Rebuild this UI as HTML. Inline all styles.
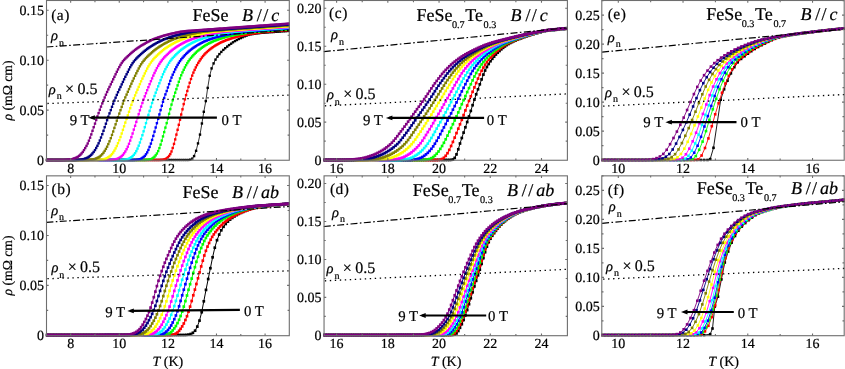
<!DOCTYPE html>
<html><head><meta charset="utf-8"><title>Figure</title>
<style>
html,body{margin:0;padding:0;background:#fff;}
body{width:845px;height:369px;overflow:hidden;}
text{stroke:#000;stroke-width:0.2px;}
svg{display:block;font-family:"Liberation Serif",serif;text-rendering:geometricPrecision;will-change:transform;}
</style></head><body>
<svg width="845" height="369" viewBox="0 0 845 369">
<rect width="845" height="369" fill="#fff"/>
<defs>
<marker id="ma0" markerUnits="userSpaceOnUse" markerWidth="6" markerHeight="6" refX="3" refY="3"><rect x="1.8" y="1.8" width="2.4" height="2.4" fill="#000000"/></marker>
<marker id="ma1" markerUnits="userSpaceOnUse" markerWidth="6" markerHeight="6" refX="3" refY="3"><rect x="1.8" y="1.8" width="2.4" height="2.4" fill="#ff0000"/></marker>
<marker id="ma2" markerUnits="userSpaceOnUse" markerWidth="6" markerHeight="6" refX="3" refY="3"><rect x="1.8" y="1.8" width="2.4" height="2.4" fill="#00ff00"/></marker>
<marker id="ma3" markerUnits="userSpaceOnUse" markerWidth="6" markerHeight="6" refX="3" refY="3"><rect x="1.8" y="1.8" width="2.4" height="2.4" fill="#0000ff"/></marker>
<marker id="ma4" markerUnits="userSpaceOnUse" markerWidth="6" markerHeight="6" refX="3" refY="3"><rect x="1.8" y="1.8" width="2.4" height="2.4" fill="#00ffff"/></marker>
<marker id="ma5" markerUnits="userSpaceOnUse" markerWidth="6" markerHeight="6" refX="3" refY="3"><rect x="1.8" y="1.8" width="2.4" height="2.4" fill="#ff00ff"/></marker>
<marker id="ma6" markerUnits="userSpaceOnUse" markerWidth="6" markerHeight="6" refX="3" refY="3"><rect x="1.8" y="1.8" width="2.4" height="2.4" fill="#ffff00"/></marker>
<marker id="ma7" markerUnits="userSpaceOnUse" markerWidth="6" markerHeight="6" refX="3" refY="3"><rect x="1.8" y="1.8" width="2.4" height="2.4" fill="#808000"/></marker>
<marker id="ma8" markerUnits="userSpaceOnUse" markerWidth="6" markerHeight="6" refX="3" refY="3"><rect x="1.8" y="1.8" width="2.4" height="2.4" fill="#000080"/></marker>
<marker id="ma9" markerUnits="userSpaceOnUse" markerWidth="6" markerHeight="6" refX="3" refY="3"><rect x="1.8" y="1.8" width="2.4" height="2.4" fill="#800080"/></marker>
<marker id="mb0" markerUnits="userSpaceOnUse" markerWidth="6" markerHeight="6" refX="3" refY="3"><rect x="1.65" y="1.65" width="2.7" height="2.7" fill="#000000"/></marker>
<marker id="mb1" markerUnits="userSpaceOnUse" markerWidth="6" markerHeight="6" refX="3" refY="3"><rect x="1.65" y="1.65" width="2.7" height="2.7" fill="#ff0000"/></marker>
<marker id="mb2" markerUnits="userSpaceOnUse" markerWidth="6" markerHeight="6" refX="3" refY="3"><rect x="1.65" y="1.65" width="2.7" height="2.7" fill="#00ff00"/></marker>
<marker id="mb3" markerUnits="userSpaceOnUse" markerWidth="6" markerHeight="6" refX="3" refY="3"><rect x="1.65" y="1.65" width="2.7" height="2.7" fill="#0000ff"/></marker>
<marker id="mb4" markerUnits="userSpaceOnUse" markerWidth="6" markerHeight="6" refX="3" refY="3"><rect x="1.65" y="1.65" width="2.7" height="2.7" fill="#00ffff"/></marker>
<marker id="mb5" markerUnits="userSpaceOnUse" markerWidth="6" markerHeight="6" refX="3" refY="3"><rect x="1.65" y="1.65" width="2.7" height="2.7" fill="#ff00ff"/></marker>
<marker id="mb6" markerUnits="userSpaceOnUse" markerWidth="6" markerHeight="6" refX="3" refY="3"><rect x="1.65" y="1.65" width="2.7" height="2.7" fill="#ffff00"/></marker>
<marker id="mb7" markerUnits="userSpaceOnUse" markerWidth="6" markerHeight="6" refX="3" refY="3"><rect x="1.65" y="1.65" width="2.7" height="2.7" fill="#808000"/></marker>
<marker id="mb8" markerUnits="userSpaceOnUse" markerWidth="6" markerHeight="6" refX="3" refY="3"><rect x="1.65" y="1.65" width="2.7" height="2.7" fill="#000080"/></marker>
<marker id="mb9" markerUnits="userSpaceOnUse" markerWidth="6" markerHeight="6" refX="3" refY="3"><rect x="1.65" y="1.65" width="2.7" height="2.7" fill="#800080"/></marker>
<marker id="mc0" markerUnits="userSpaceOnUse" markerWidth="6" markerHeight="6" refX="3" refY="3"><rect x="1.65" y="1.65" width="2.7" height="2.7" fill="#000000"/></marker>
<marker id="mc1" markerUnits="userSpaceOnUse" markerWidth="6" markerHeight="6" refX="3" refY="3"><rect x="1.65" y="1.65" width="2.7" height="2.7" fill="#ff0000"/></marker>
<marker id="mc2" markerUnits="userSpaceOnUse" markerWidth="6" markerHeight="6" refX="3" refY="3"><rect x="1.65" y="1.65" width="2.7" height="2.7" fill="#00ff00"/></marker>
<marker id="mc3" markerUnits="userSpaceOnUse" markerWidth="6" markerHeight="6" refX="3" refY="3"><rect x="1.65" y="1.65" width="2.7" height="2.7" fill="#0000ff"/></marker>
<marker id="mc4" markerUnits="userSpaceOnUse" markerWidth="6" markerHeight="6" refX="3" refY="3"><rect x="1.65" y="1.65" width="2.7" height="2.7" fill="#00ffff"/></marker>
<marker id="mc5" markerUnits="userSpaceOnUse" markerWidth="6" markerHeight="6" refX="3" refY="3"><rect x="1.65" y="1.65" width="2.7" height="2.7" fill="#ff00ff"/></marker>
<marker id="mc6" markerUnits="userSpaceOnUse" markerWidth="6" markerHeight="6" refX="3" refY="3"><rect x="1.65" y="1.65" width="2.7" height="2.7" fill="#ffff00"/></marker>
<marker id="mc7" markerUnits="userSpaceOnUse" markerWidth="6" markerHeight="6" refX="3" refY="3"><rect x="1.65" y="1.65" width="2.7" height="2.7" fill="#808000"/></marker>
<marker id="mc8" markerUnits="userSpaceOnUse" markerWidth="6" markerHeight="6" refX="3" refY="3"><rect x="1.65" y="1.65" width="2.7" height="2.7" fill="#000080"/></marker>
<marker id="mc9" markerUnits="userSpaceOnUse" markerWidth="6" markerHeight="6" refX="3" refY="3"><rect x="1.65" y="1.65" width="2.7" height="2.7" fill="#800080"/></marker>
<marker id="md0" markerUnits="userSpaceOnUse" markerWidth="6" markerHeight="6" refX="3" refY="3"><rect x="1.65" y="1.65" width="2.7" height="2.7" fill="#000000"/></marker>
<marker id="md1" markerUnits="userSpaceOnUse" markerWidth="6" markerHeight="6" refX="3" refY="3"><rect x="1.65" y="1.65" width="2.7" height="2.7" fill="#ff0000"/></marker>
<marker id="md2" markerUnits="userSpaceOnUse" markerWidth="6" markerHeight="6" refX="3" refY="3"><rect x="1.65" y="1.65" width="2.7" height="2.7" fill="#00ff00"/></marker>
<marker id="md3" markerUnits="userSpaceOnUse" markerWidth="6" markerHeight="6" refX="3" refY="3"><rect x="1.65" y="1.65" width="2.7" height="2.7" fill="#0000ff"/></marker>
<marker id="md4" markerUnits="userSpaceOnUse" markerWidth="6" markerHeight="6" refX="3" refY="3"><rect x="1.65" y="1.65" width="2.7" height="2.7" fill="#00ffff"/></marker>
<marker id="md5" markerUnits="userSpaceOnUse" markerWidth="6" markerHeight="6" refX="3" refY="3"><rect x="1.65" y="1.65" width="2.7" height="2.7" fill="#ff00ff"/></marker>
<marker id="md6" markerUnits="userSpaceOnUse" markerWidth="6" markerHeight="6" refX="3" refY="3"><rect x="1.65" y="1.65" width="2.7" height="2.7" fill="#ffff00"/></marker>
<marker id="md7" markerUnits="userSpaceOnUse" markerWidth="6" markerHeight="6" refX="3" refY="3"><rect x="1.65" y="1.65" width="2.7" height="2.7" fill="#808000"/></marker>
<marker id="md8" markerUnits="userSpaceOnUse" markerWidth="6" markerHeight="6" refX="3" refY="3"><rect x="1.65" y="1.65" width="2.7" height="2.7" fill="#000080"/></marker>
<marker id="md9" markerUnits="userSpaceOnUse" markerWidth="6" markerHeight="6" refX="3" refY="3"><rect x="1.65" y="1.65" width="2.7" height="2.7" fill="#800080"/></marker>
<marker id="me0" markerUnits="userSpaceOnUse" markerWidth="6" markerHeight="6" refX="3" refY="3"><rect x="1.7" y="1.7" width="2.6" height="2.6" fill="#000000"/></marker>
<marker id="me1" markerUnits="userSpaceOnUse" markerWidth="6" markerHeight="6" refX="3" refY="3"><rect x="1.7" y="1.7" width="2.6" height="2.6" fill="#ff0000"/></marker>
<marker id="me2" markerUnits="userSpaceOnUse" markerWidth="6" markerHeight="6" refX="3" refY="3"><rect x="1.7" y="1.7" width="2.6" height="2.6" fill="#00ff00"/></marker>
<marker id="me3" markerUnits="userSpaceOnUse" markerWidth="6" markerHeight="6" refX="3" refY="3"><rect x="1.7" y="1.7" width="2.6" height="2.6" fill="#0000ff"/></marker>
<marker id="me4" markerUnits="userSpaceOnUse" markerWidth="6" markerHeight="6" refX="3" refY="3"><rect x="1.7" y="1.7" width="2.6" height="2.6" fill="#00ffff"/></marker>
<marker id="me5" markerUnits="userSpaceOnUse" markerWidth="6" markerHeight="6" refX="3" refY="3"><rect x="1.7" y="1.7" width="2.6" height="2.6" fill="#ff00ff"/></marker>
<marker id="me6" markerUnits="userSpaceOnUse" markerWidth="6" markerHeight="6" refX="3" refY="3"><rect x="1.7" y="1.7" width="2.6" height="2.6" fill="#ffff00"/></marker>
<marker id="me7" markerUnits="userSpaceOnUse" markerWidth="6" markerHeight="6" refX="3" refY="3"><rect x="1.7" y="1.7" width="2.6" height="2.6" fill="#808000"/></marker>
<marker id="me8" markerUnits="userSpaceOnUse" markerWidth="6" markerHeight="6" refX="3" refY="3"><rect x="1.7" y="1.7" width="2.6" height="2.6" fill="#000080"/></marker>
<marker id="me9" markerUnits="userSpaceOnUse" markerWidth="6" markerHeight="6" refX="3" refY="3"><rect x="1.7" y="1.7" width="2.6" height="2.6" fill="#800080"/></marker>
<marker id="mf0" markerUnits="userSpaceOnUse" markerWidth="6" markerHeight="6" refX="3" refY="3"><rect x="1.7" y="1.7" width="2.6" height="2.6" fill="#000000"/></marker>
<marker id="mf1" markerUnits="userSpaceOnUse" markerWidth="6" markerHeight="6" refX="3" refY="3"><rect x="1.7" y="1.7" width="2.6" height="2.6" fill="#ff0000"/></marker>
<marker id="mf2" markerUnits="userSpaceOnUse" markerWidth="6" markerHeight="6" refX="3" refY="3"><rect x="1.7" y="1.7" width="2.6" height="2.6" fill="#00ff00"/></marker>
<marker id="mf3" markerUnits="userSpaceOnUse" markerWidth="6" markerHeight="6" refX="3" refY="3"><rect x="1.7" y="1.7" width="2.6" height="2.6" fill="#0000ff"/></marker>
<marker id="mf4" markerUnits="userSpaceOnUse" markerWidth="6" markerHeight="6" refX="3" refY="3"><rect x="1.7" y="1.7" width="2.6" height="2.6" fill="#00ffff"/></marker>
<marker id="mf5" markerUnits="userSpaceOnUse" markerWidth="6" markerHeight="6" refX="3" refY="3"><rect x="1.7" y="1.7" width="2.6" height="2.6" fill="#ff00ff"/></marker>
<marker id="mf6" markerUnits="userSpaceOnUse" markerWidth="6" markerHeight="6" refX="3" refY="3"><rect x="1.7" y="1.7" width="2.6" height="2.6" fill="#ffff00"/></marker>
<marker id="mf7" markerUnits="userSpaceOnUse" markerWidth="6" markerHeight="6" refX="3" refY="3"><rect x="1.7" y="1.7" width="2.6" height="2.6" fill="#808000"/></marker>
<marker id="mf8" markerUnits="userSpaceOnUse" markerWidth="6" markerHeight="6" refX="3" refY="3"><rect x="1.7" y="1.7" width="2.6" height="2.6" fill="#000080"/></marker>
<marker id="mf9" markerUnits="userSpaceOnUse" markerWidth="6" markerHeight="6" refX="3" refY="3"><rect x="1.7" y="1.7" width="2.6" height="2.6" fill="#800080"/></marker>
</defs>
<g id="panel_a">
<clipPath id="clip_a"><rect x="45.9" y="0.5" width="243.9" height="161.2"/></clipPath>
<g clip-path="url(#clip_a)" fill="none" stroke-linejoin="round">
<polyline points="46.4,160 48.3,160 50.2,160 52.2,160 54.1,160 56.1,160 58,160 60,160 61.9,160 63.8,160 65.8,160 67.7,160 69.7,160 71.6,160 73.6,160 75.5,160 77.5,160 79.4,160 81.3,160 83.3,160 85.2,160 87.2,160 89.1,160 91.1,160 93,160 95,160 96.9,160 98.8,160 100.8,160 102.7,160 104.7,160 106.6,160 108.6,160 110.5,160 112.5,160 114.4,160 116.3,160 118.3,160 120.2,160 122.2,160 124.1,160 126.1,160 128,160 130,160 131.9,160 133.8,160 135.8,160 137.7,160 139.7,160 141.6,160 143.6,160 145.5,160 147.5,160 149.4,160 151.3,160 153.3,160 155.2,160 157.2,160 159.1,160 161.1,160 163,160 165,160 166.9,160 168.8,160 170.8,160 172.7,160 174.7,160 176.6,160 178.6,160 180.5,160 182.5,160 184.4,160 186.3,160 188.3,160 190.2,159.7 192.2,158.7 194.1,156.1 196.1,150.8 198,143.4 200,134.6 201.9,123.5 203.8,111.8 205.8,101.1 207.7,87.9 209.7,75.8 211.6,68.4 213.6,63.4 215.5,59.6 217.5,56.6 219.4,54.1 221.3,51.9 223.3,49.9 225.2,48.2 227.2,46.6 229.1,45.1 231.1,43.7 233,42.3 235,41.1 236.9,40 238.8,39 240.8,38.1 242.7,37.2 244.7,36.3 246.6,35.6 248.6,34.9 250.5,34.4 252.5,34.1 254.4,33.8 256.3,33.5 258.3,33.3 260.2,33 262.2,32.8 264.1,32.7 266.1,32.5 268,32.4 270,32.2 271.9,32.1 273.8,32 275.8,31.8 277.7,31.7 279.7,31.6 281.6,31.4 283.6,31.3 285.5,31.2 287.5,31 289.4,30.9" stroke="#000000" stroke-width="0.8" marker-start="url(#ma0)" marker-mid="url(#ma0)" marker-end="url(#ma0)"/>
<polyline points="46.4,160 47.6,160 48.8,160 50,160 51.2,160 52.4,160 53.6,160 54.9,160 56.1,160 57.3,160 58.5,160 59.7,160 60.9,160 62.1,160 63.4,160 64.6,160 65.8,160 67,160 68.2,160 69.4,160 70.7,160 71.9,160 73.1,160 74.3,160 75.5,160 76.7,160 77.9,160 79.2,160 80.4,160 81.6,160 82.8,160 84,160 85.2,160 86.5,160 87.7,160 88.9,160 90.1,160 91.3,160 92.5,160 93.7,160 95,160 96.2,160 97.4,160 98.6,160 99.8,160 101,160 102.3,160 103.5,160 104.7,160 105.9,160 107.1,160 108.3,160 109.5,160 110.8,160 112,160 113.2,160 114.4,160 115.6,160 116.8,160 118,160 119.3,160 120.5,160 121.7,160 122.9,160 124.1,160 125.3,160 126.6,160 127.8,160 129,160 130.2,160 131.4,160 132.6,160 133.8,160 135.1,160 136.3,160 137.5,160 138.7,160 139.9,160 141.1,160 142.4,160 143.6,160 144.8,160 146,160 147.2,160 148.4,160 149.6,160 150.9,160 152.1,160 153.3,160 154.5,160 155.7,160 156.9,160 158.2,160 159.4,160 160.6,159.9 161.8,159.9 163,159.8 164.2,159.5 165.4,159.1 166.7,158.3 167.9,157.3 169.1,155.9 170.3,154.1 171.5,151.5 172.7,148 174,143.9 175.2,139.4 176.4,134.6 177.6,129.8 178.8,124.8 180,119.7 181.2,114.5 182.5,109.3 183.7,104.1 184.9,99.4 186.1,95.1 187.3,91 188.5,86.9 189.7,82.8 191,79 192.2,75.6 193.4,72.6 194.6,69.9 195.8,67.4 197,65.1 198.3,62.9 199.5,61 200.7,59.2 201.9,57.5 203.1,56 204.3,54.6 205.5,53.3 206.8,52.1 208,51 209.2,50 210.4,49 211.6,48.1 212.8,47.2 214.1,46.4 215.3,45.6 216.5,44.9 217.7,44.2 218.9,43.5 220.1,42.9 221.3,42.3 222.6,41.7 223.8,41.2 225,40.7 226.2,40.2 227.4,39.8 228.6,39.4 229.9,38.9 231.1,38.5 232.3,38.1 233.5,37.7 234.7,37.4 235.9,37 237.1,36.7 238.4,36.4 239.6,36.1 240.8,35.8 242,35.5 243.2,35.3 244.4,35 245.7,34.8 246.9,34.6 248.1,34.4 249.3,34.1 250.5,33.9 251.7,33.7 252.9,33.5 254.2,33.3 255.4,33.1 256.6,32.9 257.8,32.7 259,32.6 260.2,32.4 261.4,32.3 262.7,32.1 263.9,32 265.1,31.9 266.3,31.8 267.5,31.7 268.7,31.5 270,31.4 271.2,31.3 272.4,31.2 273.6,31.1 274.8,31 276,30.9 277.2,30.8 278.5,30.7 279.7,30.6 280.9,30.5 282.1,30.4 283.3,30.3 284.5,30.2 285.8,30.2 287,30.1 288.2,30 289.4,29.9" stroke="#ff0000" stroke-width="0.8" marker-start="url(#ma1)" marker-mid="url(#ma1)" marker-end="url(#ma1)"/>
<polyline points="46.4,160 47.6,160 48.8,160 50,160 51.2,160 52.4,160 53.6,160 54.9,160 56.1,160 57.3,160 58.5,160 59.7,160 60.9,160 62.1,160 63.4,160 64.6,160 65.8,160 67,160 68.2,160 69.4,160 70.7,160 71.9,160 73.1,160 74.3,160 75.5,160 76.7,160 77.9,160 79.2,160 80.4,160 81.6,160 82.8,160 84,160 85.2,160 86.5,160 87.7,160 88.9,160 90.1,160 91.3,160 92.5,160 93.7,160 95,160 96.2,160 97.4,160 98.6,160 99.8,160 101,160 102.3,160 103.5,160 104.7,160 105.9,160 107.1,160 108.3,160 109.5,160 110.8,160 112,160 113.2,160 114.4,160 115.6,160 116.8,160 118,160 119.3,160 120.5,160 121.7,160 122.9,160 124.1,160 125.3,160 126.6,160 127.8,160 129,160 130.2,160 131.4,160 132.6,160 133.8,160 135.1,160 136.3,160 137.5,160 138.7,160 139.9,160 141.1,160 142.4,160 143.6,160 144.8,160 146,159.9 147.2,159.9 148.4,159.8 149.6,159.5 150.9,159.2 152.1,158.6 153.3,157.8 154.5,156.7 155.7,155.3 156.9,153.5 158.2,151.1 159.4,148.1 160.6,144.6 161.8,140.6 163,136.4 164.2,132.1 165.4,127.6 166.7,123.1 167.9,118.5 169.1,113.8 170.3,109.1 171.5,104.6 172.7,100.3 174,96.4 175.2,92.7 176.4,89.1 177.6,85.4 178.8,81.8 180,78.4 181.2,75.3 182.5,72.4 183.7,69.8 184.9,67.4 186.1,65.2 187.3,63.1 188.5,61.2 189.7,59.5 191,57.9 192.2,56.5 193.4,55.2 194.6,53.9 195.8,52.7 197,51.5 198.3,50.5 199.5,49.5 200.7,48.6 201.9,47.7 203.1,46.9 204.3,46.1 205.5,45.3 206.8,44.6 208,43.9 209.2,43.3 210.4,42.7 211.6,42.1 212.8,41.5 214.1,41 215.3,40.5 216.5,40.1 217.7,39.6 218.9,39.2 220.1,38.8 221.3,38.4 222.6,38 223.8,37.6 225,37.2 226.2,36.9 227.4,36.6 228.6,36.2 229.9,36 231.1,35.7 232.3,35.4 233.5,35.2 234.7,34.9 235.9,34.7 237.1,34.5 238.4,34.2 239.6,34 240.8,33.8 242,33.6 243.2,33.4 244.4,33.2 245.7,33 246.9,32.8 248.1,32.6 249.3,32.5 250.5,32.3 251.7,32.2 252.9,32 254.2,31.9 255.4,31.8 256.6,31.7 257.8,31.6 259,31.5 260.2,31.4 261.4,31.3 262.7,31.2 263.9,31.1 265.1,30.9 266.3,30.8 267.5,30.7 268.7,30.7 270,30.6 271.2,30.5 272.4,30.4 273.6,30.3 274.8,30.2 276,30.1 277.2,30 278.5,30 279.7,29.9 280.9,29.8 282.1,29.7 283.3,29.6 284.5,29.5 285.8,29.4 287,29.4 288.2,29.3 289.4,29.2" stroke="#00ff00" stroke-width="0.8" marker-start="url(#ma2)" marker-mid="url(#ma2)" marker-end="url(#ma2)"/>
<polyline points="46.4,160 47.6,160 48.8,160 50,160 51.2,160 52.4,160 53.6,160 54.9,160 56.1,160 57.3,160 58.5,160 59.7,160 60.9,160 62.1,160 63.4,160 64.6,160 65.8,160 67,160 68.2,160 69.4,160 70.7,160 71.9,160 73.1,160 74.3,160 75.5,160 76.7,160 77.9,160 79.2,160 80.4,160 81.6,160 82.8,160 84,160 85.2,160 86.5,160 87.7,160 88.9,160 90.1,160 91.3,160 92.5,160 93.7,160 95,160 96.2,160 97.4,160 98.6,160 99.8,160 101,160 102.3,160 103.5,160 104.7,160 105.9,160 107.1,160 108.3,160 109.5,160 110.8,160 112,160 113.2,160 114.4,160 115.6,160 116.8,160 118,160 119.3,160 120.5,160 121.7,160 122.9,160 124.1,160 125.3,160 126.6,160 127.8,160 129,160 130.2,160 131.4,160 132.6,160 133.8,160 135.1,159.9 136.3,159.9 137.5,159.7 138.7,159.5 139.9,159.2 141.1,158.7 142.4,157.9 143.6,157 144.8,155.9 146,154.3 147.2,152.4 148.4,149.9 149.6,146.9 150.9,143.6 152.1,139.9 153.3,135.9 154.5,131.7 155.7,127.5 156.9,123.2 158.2,118.8 159.4,114.4 160.6,110.1 161.8,105.8 163,101.8 164.2,98 165.4,94.4 166.7,91 167.9,87.5 169.1,84.1 170.3,80.8 171.5,77.6 172.7,74.7 174,72 175.2,69.4 176.4,67.1 177.6,64.9 178.8,62.9 180,61.1 181.2,59.4 182.5,57.9 183.7,56.5 184.9,55.2 186.1,53.9 187.3,52.8 188.5,51.6 189.7,50.6 191,49.6 192.2,48.7 193.4,47.8 194.6,47 195.8,46.2 197,45.4 198.3,44.7 199.5,44 200.7,43.3 201.9,42.7 203.1,42.1 204.3,41.5 205.5,41 206.8,40.5 208,40 209.2,39.6 210.4,39.1 211.6,38.7 212.8,38.3 214.1,37.9 215.3,37.5 216.5,37.2 217.7,36.8 218.9,36.5 220.1,36.2 221.3,35.9 222.6,35.6 223.8,35.3 225,35.1 226.2,34.8 227.4,34.6 228.6,34.3 229.9,34.1 231.1,33.9 232.3,33.6 233.5,33.4 234.7,33.2 235.9,33 237.1,32.8 238.4,32.6 239.6,32.5 240.8,32.3 242,32.1 243.2,32 244.4,31.9 245.7,31.8 246.9,31.7 248.1,31.5 249.3,31.4 250.5,31.3 251.7,31.2 252.9,31.1 254.2,31 255.4,30.9 256.6,30.8 257.8,30.7 259,30.6 260.2,30.5 261.4,30.4 262.7,30.3 263.9,30.3 265.1,30.2 266.3,30.1 267.5,30 268.7,29.9 270,29.8 271.2,29.7 272.4,29.6 273.6,29.6 274.8,29.5 276,29.4 277.2,29.3 278.5,29.2 279.7,29.1 280.9,29 282.1,29 283.3,28.9 284.5,28.8 285.8,28.7 287,28.6 288.2,28.5 289.4,28.4" stroke="#0000ff" stroke-width="0.8" marker-start="url(#ma3)" marker-mid="url(#ma3)" marker-end="url(#ma3)"/>
<polyline points="46.4,160 47.6,160 48.8,160 50,160 51.2,160 52.4,160 53.6,160 54.9,160 56.1,160 57.3,160 58.5,160 59.7,160 60.9,160 62.1,160 63.4,160 64.6,160 65.8,160 67,160 68.2,160 69.4,160 70.7,160 71.9,160 73.1,160 74.3,160 75.5,160 76.7,160 77.9,160 79.2,160 80.4,160 81.6,160 82.8,160 84,160 85.2,160 86.5,160 87.7,160 88.9,160 90.1,160 91.3,160 92.5,160 93.7,160 95,160 96.2,160 97.4,160 98.6,160 99.8,160 101,160 102.3,160 103.5,160 104.7,160 105.9,160 107.1,160 108.3,160 109.5,160 110.8,160 112,160 113.2,160 114.4,160 115.6,160 116.8,160 118,160 119.3,160 120.5,160 121.7,159.9 122.9,159.9 124.1,159.8 125.3,159.7 126.6,159.5 127.8,159.1 129,158.6 130.2,158 131.4,157.2 132.6,156.2 133.8,154.8 135.1,153.2 136.3,151.1 137.5,148.6 138.7,145.7 139.9,142.5 141.1,139 142.4,135.2 143.6,131.3 144.8,127.2 146,123.1 147.2,119 148.4,114.9 149.6,110.9 150.9,106.9 152.1,103 153.3,99.4 154.5,96 155.7,92.7 156.9,89.5 158.2,86.3 159.4,83.2 160.6,80.1 161.8,77.1 163,74.3 164.2,71.7 165.4,69.2 166.7,66.9 167.9,64.8 169.1,62.8 170.3,61 171.5,59.5 172.7,58 174,56.7 175.2,55.4 176.4,54.2 177.6,53 178.8,51.9 180,50.8 181.2,49.8 182.5,48.9 183.7,48 184.9,47.2 186.1,46.4 187.3,45.6 188.5,44.9 189.7,44.2 191,43.5 192.2,42.9 193.4,42.3 194.6,41.7 195.8,41.1 197,40.6 198.3,40.1 199.5,39.7 200.7,39.2 201.9,38.8 203.1,38.3 204.3,37.9 205.5,37.6 206.8,37.2 208,36.8 209.2,36.5 210.4,36.2 211.6,35.8 212.8,35.6 214.1,35.3 215.3,35 216.5,34.8 217.7,34.5 218.9,34.3 220.1,34 221.3,33.8 222.6,33.6 223.8,33.3 225,33.1 226.2,32.9 227.4,32.7 228.6,32.5 229.9,32.4 231.1,32.2 232.3,32 233.5,31.9 234.7,31.8 235.9,31.7 237.1,31.6 238.4,31.4 239.6,31.3 240.8,31.2 242,31.1 243.2,31 244.4,30.9 245.7,30.8 246.9,30.7 248.1,30.6 249.3,30.5 250.5,30.4 251.7,30.4 252.9,30.3 254.2,30.2 255.4,30.1 256.6,30 257.8,29.9 259,29.8 260.2,29.7 261.4,29.7 262.7,29.6 263.9,29.5 265.1,29.4 266.3,29.3 267.5,29.2 268.7,29.1 270,29 271.2,29 272.4,28.9 273.6,28.8 274.8,28.7 276,28.6 277.2,28.5 278.5,28.4 279.7,28.4 280.9,28.3 282.1,28.2 283.3,28.1 284.5,28 285.8,27.9 287,27.8 288.2,27.8 289.4,27.7" stroke="#00ffff" stroke-width="0.8" marker-start="url(#ma4)" marker-mid="url(#ma4)" marker-end="url(#ma4)"/>
<polyline points="46.4,160 47.6,160 48.8,160 50,160 51.2,160 52.4,160 53.6,160 54.9,160 56.1,160 57.3,160 58.5,160 59.7,160 60.9,160 62.1,160 63.4,160 64.6,160 65.8,160 67,160 68.2,160 69.4,160 70.7,160 71.9,160 73.1,160 74.3,160 75.5,160 76.7,160 77.9,160 79.2,160 80.4,160 81.6,160 82.8,160 84,160 85.2,160 86.5,160 87.7,160 88.9,160 90.1,160 91.3,160 92.5,160 93.7,160 95,160 96.2,160 97.4,160 98.6,160 99.8,160 101,160 102.3,160 103.5,160 104.7,160 105.9,160 107.1,160 108.3,160 109.5,160 110.8,159.9 112,159.9 113.2,159.8 114.4,159.6 115.6,159.3 116.8,159 118,158.5 119.3,157.9 120.5,157.1 121.7,156.1 122.9,154.9 124.1,153.3 125.3,151.5 126.6,149.2 127.8,146.7 129,143.8 130.2,140.6 131.4,137.1 132.6,133.5 133.8,129.6 135.1,125.8 136.3,121.9 137.5,118 138.7,114.1 139.9,110.3 141.1,106.6 142.4,103 143.6,99.5 144.8,96.3 146,93.2 147.2,90.2 148.4,87.2 149.6,84.2 150.9,81.2 152.1,78.4 153.3,75.6 154.5,73 155.7,70.5 156.9,68.1 158.2,65.9 159.4,63.9 160.6,62 161.8,60.4 163,58.9 164.2,57.5 165.4,56.3 166.7,55 167.9,53.9 169.1,52.7 170.3,51.6 171.5,50.6 172.7,49.6 174,48.7 175.2,47.9 176.4,47 177.6,46.2 178.8,45.5 180,44.8 181.2,44.1 182.5,43.4 183.7,42.7 184.9,42.1 186.1,41.5 187.3,41 188.5,40.5 189.7,40 191,39.5 192.2,39 193.4,38.6 194.6,38.2 195.8,37.8 197,37.4 198.3,37 199.5,36.6 200.7,36.3 201.9,36 203.1,35.7 204.3,35.4 205.5,35.1 206.8,34.8 208,34.6 209.2,34.3 210.4,34 211.6,33.8 212.8,33.6 214.1,33.3 215.3,33.1 216.5,32.9 217.7,32.7 218.9,32.5 220.1,32.3 221.3,32.1 222.6,32 223.8,31.8 225,31.7 226.2,31.6 227.4,31.5 228.6,31.3 229.9,31.2 231.1,31.1 232.3,31 233.5,30.9 234.7,30.8 235.9,30.7 237.1,30.6 238.4,30.5 239.6,30.4 240.8,30.4 242,30.3 243.2,30.2 244.4,30.1 245.7,30 246.9,29.9 248.1,29.8 249.3,29.7 250.5,29.6 251.7,29.6 252.9,29.5 254.2,29.4 255.4,29.3 256.6,29.2 257.8,29.1 259,29 260.2,29 261.4,28.9 262.7,28.8 263.9,28.7 265.1,28.6 266.3,28.5 267.5,28.4 268.7,28.4 270,28.3 271.2,28.2 272.4,28.1 273.6,28 274.8,27.9 276,27.8 277.2,27.8 278.5,27.7 279.7,27.6 280.9,27.5 282.1,27.4 283.3,27.3 284.5,27.2 285.8,27.2 287,27.1 288.2,27 289.4,26.9" stroke="#ff00ff" stroke-width="0.8" marker-start="url(#ma5)" marker-mid="url(#ma5)" marker-end="url(#ma5)"/>
<polyline points="46.4,160 47.6,160 48.8,160 50,160 51.2,160 52.4,160 53.6,160 54.9,160 56.1,160 57.3,160 58.5,160 59.7,160 60.9,160 62.1,160 63.4,160 64.6,160 65.8,160 67,160 68.2,160 69.4,160 70.7,160 71.9,160 73.1,160 74.3,160 75.5,160 76.7,160 77.9,160 79.2,160 80.4,160 81.6,160 82.8,160 84,160 85.2,160 86.5,160 87.7,160 88.9,160 90.1,160 91.3,160 92.5,160 93.7,160 95,160 96.2,160 97.4,160 98.6,159.9 99.8,159.8 101,159.7 102.3,159.6 103.5,159.3 104.7,159 105.9,158.6 107.1,158 108.3,157.3 109.5,156.5 110.8,155.4 112,154.1 113.2,152.5 114.4,150.6 115.6,148.4 116.8,146 118,143.2 119.3,140.2 120.5,137 121.7,133.5 122.9,129.9 124.1,126.3 125.3,122.6 126.6,118.9 127.8,115.3 129,111.8 130.2,108.2 131.4,104.8 132.6,101.5 133.8,98.4 135.1,95.4 136.3,92.5 137.5,89.7 138.7,86.9 139.9,84.1 141.1,81.3 142.4,78.6 143.6,76 144.8,73.4 146,71 147.2,68.6 148.4,66.4 149.6,64.4 150.9,62.5 152.1,60.9 153.3,59.4 154.5,58 155.7,56.8 156.9,55.6 158.2,54.4 159.4,53.3 160.6,52.2 161.8,51.2 163,50.2 164.2,49.2 165.4,48.3 166.7,47.5 167.9,46.7 169.1,45.9 170.3,45.2 171.5,44.5 172.7,43.8 174,43.1 175.2,42.5 176.4,41.8 177.6,41.3 178.8,40.7 180,40.2 181.2,39.7 182.5,39.2 183.7,38.8 184.9,38.3 186.1,37.9 187.3,37.5 188.5,37.1 189.7,36.7 191,36.4 192.2,36 193.4,35.7 194.6,35.4 195.8,35.1 197,34.8 198.3,34.6 199.5,34.3 200.7,34 201.9,33.8 203.1,33.5 204.3,33.3 205.5,33 206.8,32.8 208,32.6 209.2,32.4 210.4,32.2 211.6,32 212.8,31.9 214.1,31.7 215.3,31.6 216.5,31.5 217.7,31.3 218.9,31.2 220.1,31.1 221.3,31 222.6,30.9 223.8,30.8 225,30.7 226.2,30.6 227.4,30.5 228.6,30.4 229.9,30.3 231.1,30.3 232.3,30.2 233.5,30.1 234.7,30 235.9,29.9 237.1,29.8 238.4,29.7 239.6,29.6 240.8,29.6 242,29.5 243.2,29.4 244.4,29.3 245.7,29.2 246.9,29.1 248.1,29 249.3,28.9 250.5,28.9 251.7,28.8 252.9,28.7 254.2,28.6 255.4,28.5 256.6,28.4 257.8,28.3 259,28.3 260.2,28.2 261.4,28.1 262.7,28 263.9,27.9 265.1,27.8 266.3,27.7 267.5,27.7 268.7,27.6 270,27.5 271.2,27.4 272.4,27.3 273.6,27.2 274.8,27.1 276,27 277.2,27 278.5,26.9 279.7,26.8 280.9,26.7 282.1,26.6 283.3,26.5 284.5,26.4 285.8,26.4 287,26.3 288.2,26.2 289.4,26.1" stroke="#ffff00" stroke-width="0.8" marker-start="url(#ma6)" marker-mid="url(#ma6)" marker-end="url(#ma6)"/>
<polyline points="46.4,160 47.6,160 48.8,160 50,160 51.2,160 52.4,160 53.6,160 54.9,160 56.1,160 57.3,160 58.5,160 59.7,160 60.9,160 62.1,160 63.4,160 64.6,160 65.8,160 67,160 68.2,160 69.4,160 70.7,160 71.9,160 73.1,160 74.3,160 75.5,160 76.7,160 77.9,160 79.2,160 80.4,160 81.6,160 82.8,160 84,160 85.2,160 86.5,160 87.7,159.9 88.9,159.9 90.1,159.8 91.3,159.7 92.5,159.5 93.7,159.2 95,158.9 96.2,158.5 97.4,157.9 98.6,157.3 99.8,156.5 101,155.5 102.3,154.2 103.5,152.7 104.7,150.9 105.9,148.9 107.1,146.7 108.3,144.1 109.5,141.3 110.8,138.2 112,134.9 113.2,131.5 114.4,127.9 115.6,124.3 116.8,120.7 118,117.1 119.3,113.6 120.5,110.2 121.7,106.9 122.9,103.6 124.1,100.4 125.3,97.4 126.6,94.6 127.8,91.8 129,89.1 130.2,86.4 131.4,83.7 132.6,81 133.8,78.4 135.1,75.8 136.3,73.3 137.5,70.9 138.7,68.5 139.9,66.3 141.1,64.3 142.4,62.4 143.6,60.8 144.8,59.4 146,58 147.2,56.8 148.4,55.6 149.6,54.5 150.9,53.4 152.1,52.3 153.3,51.2 154.5,50.2 155.7,49.3 156.9,48.4 158.2,47.6 159.4,46.7 160.6,46 161.8,45.2 163,44.5 164.2,43.8 165.4,43.1 166.7,42.5 167.9,41.8 169.1,41.2 170.3,40.7 171.5,40.1 172.7,39.6 174,39.1 175.2,38.7 176.4,38.2 177.6,37.8 178.8,37.4 180,37 181.2,36.6 182.5,36.2 183.7,35.9 184.9,35.6 186.1,35.3 187.3,35 188.5,34.7 189.7,34.4 191,34.1 192.2,33.8 193.4,33.6 194.6,33.3 195.8,33.1 197,32.8 198.3,32.6 199.5,32.4 200.7,32.2 201.9,32 203.1,31.8 204.3,31.6 205.5,31.5 206.8,31.4 208,31.2 209.2,31.1 210.4,31 211.6,30.9 212.8,30.8 214.1,30.7 215.3,30.6 216.5,30.5 217.7,30.4 218.9,30.3 220.1,30.2 221.3,30.2 222.6,30.1 223.8,30 225,29.9 226.2,29.8 227.4,29.7 228.6,29.6 229.9,29.5 231.1,29.5 232.3,29.4 233.5,29.3 234.7,29.2 235.9,29.1 237.1,29 238.4,28.9 239.6,28.9 240.8,28.8 242,28.7 243.2,28.6 244.4,28.5 245.7,28.4 246.9,28.3 248.1,28.2 249.3,28.2 250.5,28.1 251.7,28 252.9,27.9 254.2,27.8 255.4,27.7 256.6,27.6 257.8,27.5 259,27.5 260.2,27.4 261.4,27.3 262.7,27.2 263.9,27.1 265.1,27 266.3,26.9 267.5,26.8 268.7,26.8 270,26.7 271.2,26.6 272.4,26.5 273.6,26.4 274.8,26.3 276,26.2 277.2,26.1 278.5,26.1 279.7,26 280.9,25.9 282.1,25.8 283.3,25.7 284.5,25.6 285.8,25.5 287,25.5 288.2,25.4 289.4,25.3" stroke="#808000" stroke-width="0.8" marker-start="url(#ma7)" marker-mid="url(#ma7)" marker-end="url(#ma7)"/>
<polyline points="46.4,160 47.6,160 48.8,160 50,160 51.2,160 52.4,160 53.6,160 54.9,160 56.1,160 57.3,160 58.5,160 59.7,160 60.9,160 62.1,160 63.4,160 64.6,160 65.8,160 67,160 68.2,160 69.4,160 70.7,160 71.9,160 73.1,160 74.3,160 75.5,160 76.7,159.9 77.9,159.9 79.2,159.8 80.4,159.7 81.6,159.5 82.8,159.3 84,159 85.2,158.6 86.5,158.1 87.7,157.5 88.9,156.7 90.1,155.9 91.3,154.8 92.5,153.4 93.7,151.9 95,150.1 96.2,148 97.4,145.8 98.6,143.3 99.8,140.5 101,137.5 102.3,134.2 103.5,130.8 104.7,127.2 105.9,123.7 107.1,120.2 108.3,116.8 109.5,113.4 110.8,110.1 112,106.8 113.2,103.7 114.4,100.6 115.6,97.7 116.8,94.9 118,92.2 119.3,89.6 120.5,87 121.7,84.4 122.9,81.9 124.1,79.3 125.3,76.8 126.6,74.3 127.8,71.9 129,69.5 130.2,67.2 131.4,65.1 132.6,63.2 133.8,61.5 135.1,60 136.3,58.6 137.5,57.4 138.7,56.2 139.9,55.1 141.1,54 142.4,52.9 143.6,51.8 144.8,50.8 146,49.9 147.2,48.9 148.4,48.1 149.6,47.2 150.9,46.4 152.1,45.7 153.3,44.9 154.5,44.2 155.7,43.5 156.9,42.8 158.2,42.2 159.4,41.6 160.6,41 161.8,40.4 163,39.9 164.2,39.3 165.4,38.9 166.7,38.4 167.9,38 169.1,37.5 170.3,37.1 171.5,36.7 172.7,36.3 174,36 175.2,35.6 176.4,35.3 177.6,35 178.8,34.7 180,34.4 181.2,34.1 182.5,33.8 183.7,33.6 184.9,33.3 186.1,33 187.3,32.8 188.5,32.5 189.7,32.3 191,32.1 192.2,31.9 193.4,31.7 194.6,31.5 195.8,31.4 197,31.2 198.3,31.1 199.5,31 200.7,30.9 201.9,30.8 203.1,30.7 204.3,30.6 205.5,30.5 206.8,30.4 208,30.3 209.2,30.2 210.4,30.2 211.6,30.1 212.8,30 214.1,29.9 215.3,29.8 216.5,29.7 217.7,29.6 218.9,29.5 220.1,29.4 221.3,29.4 222.6,29.3 223.8,29.2 225,29.1 226.2,29 227.4,28.9 228.6,28.8 229.9,28.7 231.1,28.7 232.3,28.6 233.5,28.5 234.7,28.4 235.9,28.3 237.1,28.2 238.4,28.1 239.6,28 240.8,28 242,27.9 243.2,27.8 244.4,27.7 245.7,27.6 246.9,27.5 248.1,27.4 249.3,27.3 250.5,27.3 251.7,27.2 252.9,27.1 254.2,27 255.4,26.9 256.6,26.8 257.8,26.7 259,26.6 260.2,26.6 261.4,26.5 262.7,26.4 263.9,26.3 265.1,26.2 266.3,26.1 267.5,26 268.7,25.9 270,25.9 271.2,25.8 272.4,25.7 273.6,25.6 274.8,25.5 276,25.4 277.2,25.3 278.5,25.2 279.7,25.2 280.9,25.1 282.1,25 283.3,24.9 284.5,24.8 285.8,24.7 287,24.6 288.2,24.5 289.4,24.5" stroke="#000080" stroke-width="0.8" marker-start="url(#ma8)" marker-mid="url(#ma8)" marker-end="url(#ma8)"/>
<polyline points="46.4,160 47.6,160 48.8,160 50,160 51.2,160 52.4,160 53.6,160 54.9,160 56.1,160 57.3,160 58.5,160 59.7,160 60.9,160 62.1,160 63.4,160 64.6,159.9 65.8,159.9 67,159.8 68.2,159.7 69.4,159.6 70.7,159.4 71.9,159.2 73.1,158.8 74.3,158.4 75.5,158 76.7,157.4 77.9,156.7 79.2,155.8 80.4,154.7 81.6,153.4 82.8,151.9 84,150.1 85.2,148.1 86.5,145.9 87.7,143.5 88.9,140.7 90.1,137.7 91.3,134.4 92.5,130.8 93.7,127.2 95,123.6 96.2,120 97.4,116.5 98.6,113.1 99.8,109.8 101,106.6 102.3,103.4 103.5,100.4 104.7,97.5 105.9,94.7 107.1,92 108.3,89.4 109.5,86.9 110.8,84.3 112,81.8 113.2,79.3 114.4,76.8 115.6,74.3 116.8,71.8 118,69.4 119.3,67.1 120.5,64.9 121.7,63 122.9,61.3 124.1,59.9 125.3,58.6 126.6,57.4 127.8,56.2 129,55.1 130.2,54 131.4,52.9 132.6,51.9 133.8,50.9 135.1,49.9 136.3,49 137.5,48.1 138.7,47.3 139.9,46.5 141.1,45.7 142.4,45 143.6,44.3 144.8,43.6 146,42.9 147.2,42.2 148.4,41.6 149.6,41 150.9,40.4 152.1,39.8 153.3,39.3 154.5,38.8 155.7,38.4 156.9,37.9 158.2,37.5 159.4,37.1 160.6,36.7 161.8,36.3 163,35.9 164.2,35.6 165.4,35.2 166.7,34.9 167.9,34.6 169.1,34.3 170.3,34 171.5,33.7 172.7,33.4 174,33.2 175.2,32.9 176.4,32.6 177.6,32.4 178.8,32.1 180,31.9 181.2,31.7 182.5,31.5 183.7,31.4 184.9,31.2 186.1,31.1 187.3,31 188.5,30.9 189.7,30.8 191,30.8 192.2,30.7 193.4,30.6 194.6,30.5 195.8,30.4 197,30.3 198.3,30.2 199.5,30.1 200.7,30.1 201.9,30 203.1,29.9 204.3,29.8 205.5,29.7 206.8,29.6 208,29.5 209.2,29.4 210.4,29.3 211.6,29.3 212.8,29.2 214.1,29.1 215.3,29 216.5,28.9 217.7,28.8 218.9,28.7 220.1,28.6 221.3,28.6 222.6,28.5 223.8,28.4 225,28.3 226.2,28.2 227.4,28.1 228.6,28 229.9,27.9 231.1,27.9 232.3,27.8 233.5,27.7 234.7,27.6 235.9,27.5 237.1,27.4 238.4,27.3 239.6,27.2 240.8,27.1 242,27.1 243.2,27 244.4,26.9 245.7,26.8 246.9,26.7 248.1,26.6 249.3,26.5 250.5,26.4 251.7,26.4 252.9,26.3 254.2,26.2 255.4,26.1 256.6,26 257.8,25.9 259,25.8 260.2,25.7 261.4,25.6 262.7,25.6 263.9,25.5 265.1,25.4 266.3,25.3 267.5,25.2 268.7,25.1 270,25 271.2,24.9 272.4,24.9 273.6,24.8 274.8,24.7 276,24.6 277.2,24.5 278.5,24.4 279.7,24.3 280.9,24.2 282.1,24.1 283.3,24.1 284.5,24 285.8,23.9 287,23.8 288.2,23.7 289.4,23.6" stroke="#800080" stroke-width="0.8" marker-start="url(#ma9)" marker-mid="url(#ma9)" marker-end="url(#ma9)"/>
</g>
<line x1="46.4" y1="47" x2="289.4" y2="30.2" stroke="#000" stroke-width="1.2" stroke-dasharray="7 2.4 1.6 2.4"/>
<line x1="47.4" y1="103.5" x2="289.4" y2="95.1" stroke="#000" stroke-width="1.3" stroke-dasharray="1.4 3.6"/>
<g stroke="#6e6e6e" stroke-width="1.1" fill="none">
<rect x="46.5" y="0.5" width="242.8" height="159.75"/>
<path d="M70.66 160.25v-2.2M70.66 0.5v2.2M94.96 160.25v-1.7M94.96 0.5v1.7M119.26 160.25v-2.2M119.26 0.5v2.2M143.57 160.25v-1.7M143.57 0.5v1.7M167.88 160.25v-2.2M167.88 0.5v2.2M192.18 160.25v-1.7M192.18 0.5v1.7M216.48 160.25v-2.2M216.48 0.5v2.2M240.79 160.25v-1.7M240.79 0.5v1.7M265.09 160.25v-2.2M265.09 0.5v2.2M46.5 135.14h1.7M289.3 135.14h-1.7M46.5 110.16h2.2M289.3 110.16h-2.2M46.5 85.17h1.7M289.3 85.17h-1.7M46.5 60.19h2.2M289.3 60.19h-2.2M46.5 35.2h1.7M289.3 35.2h-1.7M46.5 10.22h2.2M289.3 10.22h-2.2"/>
</g>
<g font-size="14" text-anchor="middle">
<text x="70.7" y="172.9">8</text>
<text x="119.3" y="172.9">10</text>
<text x="167.9" y="172.9">12</text>
<text x="216.5" y="172.9">14</text>
<text x="265.1" y="172.9">16</text>
</g>
<g font-size="14" text-anchor="end">
<text x="44.1" y="164.7">0</text>
<text x="44.1" y="114.7">0.05</text>
<text x="44.1" y="64.8">0.10</text>
<text x="44.1" y="14.8">0.15</text>
</g>
<path d="M216.9 117.7L91.4 117.7" stroke="#000" stroke-width="2.2" fill="none"/>
<path d="M88.4 117.7l6.5 -2.4v4.8z" fill="#000"/>
<text x="51.2" y="19.6" font-size="15.5" letter-spacing="0.5">(a)</text>
<text x="192.6" y="20.6" font-size="18">FeSe</text>
<text x="242" y="20.6" font-size="18" font-style="italic">B</text>
<text x="256.8" y="20.6" font-size="18" letter-spacing="1.4">//</text>
<text x="271.2" y="20.6" font-size="18" font-style="italic">c</text>
<text x="51" y="40.4" font-size="14.5" font-style="italic">ρ</text>
<text x="58.9" y="46.1" font-size="10">n</text>
<text x="48.8" y="93.6" font-size="14.5" font-style="italic">ρ</text>
<text x="56.7" y="99.3" font-size="10">n</text>
<text x="65.1" y="93.6" font-size="16">×</text>
<text x="77.5" y="93.6" font-size="16">0.5</text>
<text x="89.5" y="124.5" font-size="14.8" text-anchor="end">9 T</text>
<text x="221.6" y="124.5" font-size="14.8">0 T</text>
</g>
<g id="panel_b">
<clipPath id="clip_b"><rect x="45.9" y="175.85" width="243.9" height="160.9"/></clipPath>
<g clip-path="url(#clip_b)" fill="none" stroke-linejoin="round">
<polyline points="46.4,335.1 48.5,335.1 50.7,335.1 52.9,335.1 55.1,335.1 57.3,335.1 59.5,335.1 61.7,335.1 63.8,335.1 66,335.1 68.2,335.1 70.4,335.1 72.6,335.1 74.8,335.1 77,335.1 79.2,335.1 81.3,335.1 83.5,335.1 85.7,335.1 87.9,335.1 90.1,335.1 92.3,335.1 94.5,335.1 96.7,335.1 98.8,335.1 101,335.1 103.2,335.1 105.4,335.1 107.6,335.1 109.8,335.1 112,335.1 114.2,335.1 116.3,335.1 118.5,335.1 120.7,335.1 122.9,335.1 125.1,335.1 127.3,335.1 129.5,335.1 131.7,335.1 133.8,335.1 136,335.1 138.2,335.1 140.4,335.1 142.6,335.1 144.8,335.1 147,335.1 149.2,335.1 151.3,335.1 153.5,335.1 155.7,335.1 157.9,335.1 160.1,335.1 162.3,335 164.5,335 166.7,335 168.8,335 171,335 173.2,335 175.4,335 177.6,335 179.8,335 182,335 184.2,335 186.3,334.9 188.5,334.6 190.7,334 192.9,332.8 195.1,330.7 197.3,326.6 199.5,320.6 201.7,312.2 203.8,301.3 206,289.9 208.2,279 210.4,268.2 212.6,257.3 214.8,247.7 217,240.2 219.2,234.6 221.3,230.3 223.5,226.8 225.7,224 227.9,221.6 230.1,219.6 232.3,217.9 234.5,216.4 236.7,215.1 238.8,213.9 241,212.9 243.2,211.9 245.4,210.9 247.6,210.1 249.8,209.4 252,208.7 254.2,208.1 256.3,207.6 258.5,207.2 260.7,206.8 262.9,206.6 265.1,206.3 267.3,206.1 269.5,205.8 271.7,205.6 273.8,205.4 276,205.2 278.2,205 280.4,204.8 282.6,204.6 284.8,204.4 287,204.3 289.2,204.1" stroke="#000000" stroke-width="1.0" marker-start="url(#mb0)" marker-mid="url(#mb0)" marker-end="url(#mb0)"/>
<polyline points="46.4,335.1 47.9,335.1 49.5,335.1 51.1,335.1 52.7,335.1 54.2,335.1 55.8,335.1 57.4,335.1 59,335.1 60.6,335.1 62.1,335.1 63.7,335.1 65.3,335.1 66.9,335.1 68.5,335.1 70,335.1 71.6,335.1 73.2,335.1 74.8,335.1 76.4,335.1 77.9,335.1 79.5,335.1 81.1,335.1 82.7,335.1 84.3,335.1 85.8,335.1 87.4,335.1 89,335.1 90.6,335.1 92.2,335.1 93.7,335.1 95.3,335.1 96.9,335.1 98.5,335.1 100.1,335.1 101.6,335.1 103.2,335.1 104.8,335.1 106.4,335.1 108,335.1 109.5,335.1 111.1,335.1 112.7,335.1 114.3,335.1 115.9,335.1 117.4,335.1 119,335.1 120.6,335.1 122.2,335.1 123.8,335.1 125.3,335.1 126.9,335.1 128.5,335.1 130.1,335.1 131.7,335.1 133.2,335.1 134.8,335.1 136.4,335.1 138,335.1 139.6,335.1 141.1,335.1 142.7,335.1 144.3,335.1 145.9,335.1 147.5,335 149,335 150.6,335 152.2,335 153.8,335 155.4,335 156.9,335 158.5,335 160.1,335 161.7,335 163.3,335 164.8,335 166.4,335 168,335 169.6,335 171.2,335 172.7,334.7 174.3,334.4 175.9,333.6 177.5,332.5 179.1,330.8 180.6,328.8 182.2,326.4 183.8,323.5 185.4,320 187,316.2 188.5,311.7 190.1,306.6 191.7,301 193.3,295.3 194.9,289.6 196.4,284 198,278.3 199.6,272.4 201.2,266.4 202.8,260.7 204.3,255.5 205.9,250.8 207.5,246.6 209.1,243 210.7,239.7 212.2,236.9 213.8,234.4 215.4,232.1 217,230.1 218.6,228.2 220.1,226.5 221.7,224.9 223.3,223.3 224.9,221.9 226.5,220.6 228,219.4 229.6,218.4 231.2,217.4 232.8,216.5 234.3,215.6 235.9,214.8 237.5,214.1 239.1,213.3 240.7,212.7 242.2,212 243.8,211.4 245.4,210.8 247,210.3 248.6,209.7 250.1,209.3 251.7,208.8 253.3,208.4 254.9,208 256.5,207.6 258,207.3 259.6,207 261.2,206.8 262.8,206.6 264.4,206.4 265.9,206.2 267.5,206 269.1,205.9 270.7,205.7 272.3,205.5 273.8,205.4 275.4,205.2 277,205 278.6,204.9 280.2,204.8 281.7,204.6 283.3,204.5 284.9,204.4 286.5,204.3 288.1,204.2" stroke="#ff0000" stroke-width="1.0" marker-start="url(#mb1)" marker-mid="url(#mb1)" marker-end="url(#mb1)"/>
<polyline points="46.4,335.1 47.9,335.1 49.5,335.1 51.1,335.1 52.7,335.1 54.2,335.1 55.8,335.1 57.4,335.1 59,335.1 60.6,335.1 62.1,335.1 63.7,335.1 65.3,335.1 66.9,335.1 68.5,335.1 70,335.1 71.6,335.1 73.2,335.1 74.8,335.1 76.4,335.1 77.9,335.1 79.5,335.1 81.1,335.1 82.7,335.1 84.3,335.1 85.8,335.1 87.4,335.1 89,335.1 90.6,335.1 92.2,335.1 93.7,335.1 95.3,335.1 96.9,335.1 98.5,335.1 100.1,335.1 101.6,335.1 103.2,335.1 104.8,335.1 106.4,335.1 108,335.1 109.5,335.1 111.1,335.1 112.7,335.1 114.3,335.1 115.9,335.1 117.4,335.1 119,335.1 120.6,335.1 122.2,335.1 123.8,335.1 125.3,335.1 126.9,335.1 128.5,335.1 130.1,335.1 131.7,335.1 133.2,335.1 134.8,335.1 136.4,335.1 138,335.1 139.6,335 141.1,335 142.7,335 144.3,335 145.9,335 147.5,335 149,335 150.6,335 152.2,335 153.8,335 155.4,335 156.9,335 158.5,335 160.1,335 161.7,335 163.3,335 164.8,334.8 166.4,334.6 168,334.1 169.6,333.3 171.2,332.1 172.7,330.4 174.3,328.4 175.9,326 177.5,323.1 179.1,319.8 180.6,316 182.2,311.6 183.8,306.6 185.4,301.1 187,295.5 188.5,289.8 190.1,284.2 191.7,278.6 193.3,272.9 194.9,267.2 196.4,261.8 198,256.8 199.6,252.2 201.2,248 202.8,244.3 204.3,241 205.9,238 207.5,235.4 209.1,233.1 210.7,231 212.2,229.1 213.8,227.3 215.4,225.7 217,224.1 218.6,222.7 220.1,221.4 221.7,220.2 223.3,219 224.9,218 226.5,217.1 228,216.2 229.6,215.4 231.2,214.7 232.8,214 234.3,213.3 235.9,212.7 237.5,212 239.1,211.5 240.7,210.9 242.2,210.4 243.8,209.9 245.4,209.5 247,209.1 248.6,208.7 250.1,208.3 251.7,208 253.3,207.7 254.9,207.4 256.5,207.1 258,206.9 259.6,206.7 261.2,206.5 262.8,206.4 264.4,206.2 265.9,206 267.5,205.8 269.1,205.7 270.7,205.5 272.3,205.3 273.8,205.2 275.4,205 277,204.9 278.6,204.8 280.2,204.6 281.7,204.5 283.3,204.4 284.9,204.3 286.5,204.2 288.1,204.1" stroke="#00ff00" stroke-width="1.0" marker-start="url(#mb2)" marker-mid="url(#mb2)" marker-end="url(#mb2)"/>
<polyline points="46.4,335.1 47.9,335.1 49.5,335.1 51.1,335.1 52.7,335.1 54.2,335.1 55.8,335.1 57.4,335.1 59,335.1 60.6,335.1 62.1,335.1 63.7,335.1 65.3,335.1 66.9,335.1 68.5,335.1 70,335.1 71.6,335.1 73.2,335.1 74.8,335.1 76.4,335.1 77.9,335.1 79.5,335.1 81.1,335.1 82.7,335.1 84.3,335.1 85.8,335.1 87.4,335.1 89,335.1 90.6,335.1 92.2,335.1 93.7,335.1 95.3,335.1 96.9,335.1 98.5,335.1 100.1,335.1 101.6,335.1 103.2,335.1 104.8,335.1 106.4,335.1 108,335.1 109.5,335.1 111.1,335.1 112.7,335.1 114.3,335.1 115.9,335.1 117.4,335.1 119,335.1 120.6,335.1 122.2,335.1 123.8,335.1 125.3,335.1 126.9,335.1 128.5,335.1 130.1,335.1 131.7,335.1 133.2,335 134.8,335 136.4,335 138,335 139.6,335 141.1,335 142.7,335 144.3,335 145.9,335 147.5,335 149,335 150.6,335 152.2,335 153.8,335 155.4,335 156.9,335 158.5,334.9 160.1,334.7 161.7,334.4 163.3,333.8 164.8,332.9 166.4,331.6 168,330 169.6,327.9 171.2,325.5 172.7,322.5 174.3,319.2 175.9,315.5 177.5,311.2 179.1,306.3 180.6,300.9 182.2,295.3 183.8,289.7 185.4,284.2 187,278.7 188.5,273.2 190.1,267.8 191.7,262.6 193.3,257.8 194.9,253.3 196.4,249.2 198,245.4 199.6,242 201.2,239 202.8,236.3 204.3,233.9 205.9,231.8 207.5,229.8 209.1,228 210.7,226.4 212.2,224.8 213.8,223.4 215.4,222 217,220.8 218.6,219.6 220.1,218.6 221.7,217.7 223.3,216.8 224.9,216 226.5,215.2 228,214.5 229.6,213.8 231.2,213.2 232.8,212.5 234.3,212 235.9,211.4 237.5,210.9 239.1,210.5 240.7,210 242.2,209.6 243.8,209.2 245.4,208.9 247,208.5 248.6,208.2 250.1,207.9 251.7,207.6 253.3,207.4 254.9,207.1 256.5,206.9 258,206.7 259.6,206.5 261.2,206.4 262.8,206.2 264.4,206 265.9,205.8 267.5,205.7 269.1,205.5 270.7,205.4 272.3,205.2 273.8,205.1 275.4,204.9 277,204.8 278.6,204.7 280.2,204.6 281.7,204.5 283.3,204.4 284.9,204.3 286.5,204.2 288.1,204.1" stroke="#0000ff" stroke-width="1.0" marker-start="url(#mb3)" marker-mid="url(#mb3)" marker-end="url(#mb3)"/>
<polyline points="46.4,335.1 47.9,335.1 49.5,335.1 51.1,335.1 52.7,335.1 54.2,335.1 55.8,335.1 57.4,335.1 59,335.1 60.6,335.1 62.1,335.1 63.7,335.1 65.3,335.1 66.9,335.1 68.5,335.1 70,335.1 71.6,335.1 73.2,335.1 74.8,335.1 76.4,335.1 77.9,335.1 79.5,335.1 81.1,335.1 82.7,335.1 84.3,335.1 85.8,335.1 87.4,335.1 89,335.1 90.6,335.1 92.2,335.1 93.7,335.1 95.3,335.1 96.9,335.1 98.5,335.1 100.1,335.1 101.6,335.1 103.2,335.1 104.8,335.1 106.4,335.1 108,335.1 109.5,335.1 111.1,335.1 112.7,335.1 114.3,335.1 115.9,335.1 117.4,335.1 119,335.1 120.6,335.1 122.2,335.1 123.8,335.1 125.3,335.1 126.9,335 128.5,335 130.1,335 131.7,335 133.2,335 134.8,335 136.4,335 138,335 139.6,335 141.1,335 142.7,335 144.3,335 145.9,335 147.5,335 149,335 150.6,335 152.2,334.9 153.8,334.8 155.4,334.5 156.9,334 158.5,333.3 160.1,332.3 161.7,331 163.3,329.3 164.8,327.2 166.4,324.6 168,321.7 169.6,318.5 171.2,314.9 172.7,310.8 174.3,306.1 175.9,300.9 177.5,295.6 179.1,290.3 180.6,285 182.2,279.8 183.8,274.6 185.4,269.5 187,264.6 188.5,260 190.1,255.7 191.7,251.6 193.3,247.8 194.9,244.3 196.4,241.1 198,238.3 199.6,235.7 201.2,233.5 202.8,231.4 204.3,229.5 205.9,227.8 207.5,226.2 209.1,224.7 210.7,223.3 212.2,222 213.8,220.8 215.4,219.6 217,218.6 218.6,217.7 220.1,216.8 221.7,216 223.3,215.3 224.9,214.6 226.5,213.9 228,213.3 229.6,212.7 231.2,212.1 232.8,211.6 234.3,211.1 235.9,210.7 237.5,210.2 239.1,209.8 240.7,209.5 242.2,209.1 243.8,208.8 245.4,208.5 247,208.2 248.6,207.9 250.1,207.6 251.7,207.4 253.3,207.2 254.9,207 256.5,206.8 258,206.6 259.6,206.4 261.2,206.2 262.8,206 264.4,205.9 265.9,205.7 267.5,205.5 269.1,205.4 270.7,205.3 272.3,205.1 273.8,205 275.4,204.9 277,204.8 278.6,204.7 280.2,204.6 281.7,204.4 283.3,204.3 284.9,204.2 286.5,204.1 288.1,204" stroke="#00ffff" stroke-width="1.0" marker-start="url(#mb4)" marker-mid="url(#mb4)" marker-end="url(#mb4)"/>
<polyline points="46.4,335.1 47.9,335.1 49.5,335.1 51.1,335.1 52.7,335.1 54.2,335.1 55.8,335.1 57.4,335.1 59,335.1 60.6,335.1 62.1,335.1 63.7,335.1 65.3,335.1 66.9,335.1 68.5,335.1 70,335.1 71.6,335.1 73.2,335.1 74.8,335.1 76.4,335.1 77.9,335.1 79.5,335.1 81.1,335.1 82.7,335.1 84.3,335.1 85.8,335.1 87.4,335.1 89,335.1 90.6,335.1 92.2,335.1 93.7,335.1 95.3,335.1 96.9,335.1 98.5,335.1 100.1,335.1 101.6,335.1 103.2,335.1 104.8,335.1 106.4,335.1 108,335.1 109.5,335.1 111.1,335.1 112.7,335.1 114.3,335.1 115.9,335.1 117.4,335.1 119,335.1 120.6,335.1 122.2,335 123.8,335 125.3,335 126.9,335 128.5,335 130.1,335 131.7,335 133.2,335 134.8,335 136.4,335 138,335 139.6,335 141.1,335 142.7,335 144.3,335 145.9,335 147.5,334.9 149,334.7 150.6,334.4 152.2,333.9 153.8,333.2 155.4,332.2 156.9,330.9 158.5,329.2 160.1,327.2 161.7,324.7 163.3,321.8 164.8,318.7 166.4,315.2 168,311.2 169.6,306.6 171.2,301.5 172.7,296.3 174.3,290.9 175.9,285.6 177.5,280.4 179.1,275.3 180.6,270.4 182.2,265.6 183.8,261.1 185.4,256.9 187,252.8 188.5,249 190.1,245.5 191.7,242.3 193.3,239.3 194.9,236.7 196.4,234.4 198,232.3 199.6,230.3 201.2,228.5 202.8,226.9 204.3,225.4 205.9,224 207.5,222.6 209.1,221.4 210.7,220.2 212.2,219.2 213.8,218.3 215.4,217.4 217,216.6 218.6,215.8 220.1,215.1 221.7,214.4 223.3,213.8 224.9,213.2 226.5,212.6 228,212.1 229.6,211.6 231.2,211.2 232.8,210.7 234.3,210.3 235.9,209.9 237.5,209.6 239.1,209.2 240.7,208.9 242.2,208.6 243.8,208.4 245.4,208.1 247,207.8 248.6,207.6 250.1,207.4 251.7,207.2 253.3,207 254.9,206.8 256.5,206.6 258,206.4 259.6,206.2 261.2,206 262.8,205.9 264.4,205.7 265.9,205.6 267.5,205.4 269.1,205.3 270.7,205.2 272.3,205 273.8,204.9 275.4,204.8 277,204.7 278.6,204.6 280.2,204.5 281.7,204.4 283.3,204.3 284.9,204.2 286.5,204.1 288.1,204" stroke="#ff00ff" stroke-width="1.0" marker-start="url(#mb5)" marker-mid="url(#mb5)" marker-end="url(#mb5)"/>
<polyline points="46.4,335.1 47.9,335.1 49.5,335.1 51.1,335.1 52.7,335.1 54.2,335.1 55.8,335.1 57.4,335.1 59,335.1 60.6,335.1 62.1,335.1 63.7,335.1 65.3,335.1 66.9,335.1 68.5,335.1 70,335.1 71.6,335.1 73.2,335.1 74.8,335.1 76.4,335.1 77.9,335.1 79.5,335.1 81.1,335.1 82.7,335.1 84.3,335.1 85.8,335.1 87.4,335.1 89,335.1 90.6,335.1 92.2,335.1 93.7,335.1 95.3,335.1 96.9,335.1 98.5,335.1 100.1,335.1 101.6,335.1 103.2,335.1 104.8,335.1 106.4,335.1 108,335.1 109.5,335.1 111.1,335.1 112.7,335.1 114.3,335.1 115.9,335 117.4,335 119,335 120.6,335 122.2,335 123.8,335 125.3,335 126.9,335 128.5,335 130.1,335 131.7,335 133.2,335 134.8,335 136.4,335 138,335 139.6,335 141.1,334.9 142.7,334.8 144.3,334.5 145.9,334.2 147.5,333.6 149,332.9 150.6,331.8 152.2,330.5 153.8,328.8 155.4,326.7 156.9,324.1 158.5,321.3 160.1,318.2 161.7,314.7 163.3,310.8 164.8,306.3 166.4,301.3 168,296.1 169.6,290.8 171.2,285.6 172.7,280.5 174.3,275.5 175.9,270.7 177.5,266.2 179.1,261.9 180.6,257.8 182.2,253.9 183.8,250.1 185.4,246.6 187,243.3 188.5,240.3 190.1,237.6 191.7,235.2 193.3,233.1 194.9,231.1 196.4,229.3 198,227.6 199.6,226.1 201.2,224.6 202.8,223.3 204.3,222 205.9,220.9 207.5,219.8 209.1,218.8 210.7,217.9 212.2,217.1 213.8,216.3 215.4,215.6 217,214.9 218.6,214.3 220.1,213.7 221.7,213.1 223.3,212.6 224.9,212.1 226.5,211.6 228,211.2 229.6,210.8 231.2,210.4 232.8,210 234.3,209.7 235.9,209.4 237.5,209.1 239.1,208.8 240.7,208.6 242.2,208.3 243.8,208 245.4,207.8 247,207.6 248.6,207.4 250.1,207.2 251.7,207 253.3,206.8 254.9,206.6 256.5,206.4 258,206.2 259.6,206.1 261.2,205.9 262.8,205.7 264.4,205.6 265.9,205.5 267.5,205.3 269.1,205.2 270.7,205.1 272.3,205 273.8,204.9 275.4,204.8 277,204.7 278.6,204.6 280.2,204.5 281.7,204.3 283.3,204.2 284.9,204.1 286.5,204 288.1,203.9" stroke="#ffff00" stroke-width="1.0" marker-start="url(#mb6)" marker-mid="url(#mb6)" marker-end="url(#mb6)"/>
<polyline points="46.4,335.1 47.9,335.1 49.5,335.1 51.1,335.1 52.7,335.1 54.2,335.1 55.8,335.1 57.4,335.1 59,335.1 60.6,335.1 62.1,335.1 63.7,335.1 65.3,335.1 66.9,335.1 68.5,335.1 70,335.1 71.6,335.1 73.2,335.1 74.8,335.1 76.4,335.1 77.9,335.1 79.5,335.1 81.1,335.1 82.7,335.1 84.3,335.1 85.8,335.1 87.4,335.1 89,335.1 90.6,335.1 92.2,335.1 93.7,335.1 95.3,335.1 96.9,335.1 98.5,335.1 100.1,335.1 101.6,335.1 103.2,335.1 104.8,335.1 106.4,335.1 108,335.1 109.5,335 111.1,335 112.7,335 114.3,335 115.9,335 117.4,335 119,335 120.6,335 122.2,335 123.8,335 125.3,335 126.9,335 128.5,335 130.1,335 131.7,335 133.2,335 134.8,335 136.4,334.8 138,334.6 139.6,334.3 141.1,333.9 142.7,333.3 144.3,332.5 145.9,331.4 147.5,330 149,328.3 150.6,326.1 152.2,323.5 153.8,320.7 155.4,317.7 156.9,314.3 158.5,310.4 160.1,306 161.7,301.2 163.3,296.1 164.8,291 166.4,285.8 168,280.9 169.6,276.1 171.2,271.5 172.7,267.1 174.3,262.9 175.9,259 177.5,255.2 179.1,251.5 180.6,248 182.2,244.8 183.8,241.7 185.4,238.9 187,236.4 188.5,234.2 190.1,232.1 191.7,230.3 193.3,228.6 194.9,227 196.4,225.5 198,224.1 199.6,222.8 201.2,221.6 202.8,220.5 204.3,219.5 205.9,218.6 207.5,217.7 209.1,216.9 210.7,216.2 212.2,215.5 213.8,214.8 215.4,214.2 217,213.6 218.6,213.1 220.1,212.6 221.7,212.2 223.3,211.7 224.9,211.3 226.5,210.9 228,210.6 229.6,210.2 231.2,209.9 232.8,209.6 234.3,209.3 235.9,209 237.5,208.8 239.1,208.5 240.7,208.3 242.2,208 243.8,207.8 245.4,207.6 247,207.4 248.6,207.2 250.1,207 251.7,206.8 253.3,206.6 254.9,206.4 256.5,206.2 258,206.1 259.6,205.9 261.2,205.8 262.8,205.6 264.4,205.5 265.9,205.4 267.5,205.3 269.1,205.2 270.7,205.1 272.3,204.9 273.8,204.8 275.4,204.7 277,204.6 278.6,204.5 280.2,204.4 281.7,204.3 283.3,204.2 284.9,204.1 286.5,204 288.1,203.9" stroke="#808000" stroke-width="1.0" marker-start="url(#mb7)" marker-mid="url(#mb7)" marker-end="url(#mb7)"/>
<polyline points="46.4,335.1 47.9,335.1 49.5,335.1 51.1,335.1 52.7,335.1 54.2,335.1 55.8,335.1 57.4,335.1 59,335.1 60.6,335.1 62.1,335.1 63.7,335.1 65.3,335.1 66.9,335.1 68.5,335.1 70,335.1 71.6,335.1 73.2,335.1 74.8,335.1 76.4,335.1 77.9,335.1 79.5,335.1 81.1,335.1 82.7,335.1 84.3,335.1 85.8,335.1 87.4,335.1 89,335.1 90.6,335.1 92.2,335.1 93.7,335.1 95.3,335.1 96.9,335.1 98.5,335.1 100.1,335.1 101.6,335.1 103.2,335.1 104.8,335 106.4,335 108,335 109.5,335 111.1,335 112.7,335 114.3,335 115.9,335 117.4,335 119,335 120.6,335 122.2,335 123.8,335 125.3,335 126.9,335 128.5,335 130.1,334.9 131.7,334.7 133.2,334.5 134.8,334.2 136.4,333.7 138,333 139.6,332.2 141.1,331.1 142.7,329.6 144.3,327.8 145.9,325.6 147.5,323 149,320.2 150.6,317.2 152.2,313.9 153.8,310.1 155.4,305.8 156.9,301 158.5,296 160.1,290.9 161.7,285.8 163.3,280.9 164.8,276.3 166.4,271.8 168,267.6 169.6,263.6 171.2,259.8 172.7,256.1 174.3,252.5 175.9,249.1 177.5,245.8 179.1,242.7 180.6,239.9 182.2,237.3 183.8,235 185.4,232.9 187,231 188.5,229.3 190.1,227.7 191.7,226.2 193.3,224.8 194.9,223.5 196.4,222.3 198,221.1 199.6,220.1 201.2,219.1 202.8,218.3 204.3,217.5 205.9,216.7 207.5,216 209.1,215.3 210.7,214.7 212.2,214.1 213.8,213.6 215.4,213.1 217,212.6 218.6,212.2 220.1,211.8 221.7,211.4 223.3,211 224.9,210.7 226.5,210.3 228,210 229.6,209.7 231.2,209.5 232.8,209.2 234.3,208.9 235.9,208.7 237.5,208.5 239.1,208.2 240.7,208 242.2,207.8 243.8,207.6 245.4,207.4 247,207.2 248.6,207 250.1,206.8 251.7,206.6 253.3,206.4 254.9,206.2 256.5,206.1 258,205.9 259.6,205.8 261.2,205.7 262.8,205.5 264.4,205.4 265.9,205.3 267.5,205.2 269.1,205.1 270.7,205 272.3,204.9 273.8,204.8 275.4,204.7 277,204.6 278.6,204.5 280.2,204.4 281.7,204.3 283.3,204.1 284.9,204 286.5,203.9 288.1,203.8" stroke="#000080" stroke-width="1.0" marker-start="url(#mb8)" marker-mid="url(#mb8)" marker-end="url(#mb8)"/>
<polyline points="46.4,335.1 47.9,335.1 49.5,335.1 51.1,335.1 52.7,335.1 54.2,335.1 55.8,335.1 57.4,335.1 59,335.1 60.6,335.1 62.1,335.1 63.7,335.1 65.3,335.1 66.9,335.1 68.5,335.1 70,335.1 71.6,335.1 73.2,335.1 74.8,335.1 76.4,335.1 77.9,335.1 79.5,335.1 81.1,335.1 82.7,335.1 84.3,335.1 85.8,335.1 87.4,335.1 89,335.1 90.6,335.1 92.2,335.1 93.7,335.1 95.3,335.1 96.9,335.1 98.5,335.1 100.1,335 101.6,335 103.2,335 104.8,335 106.4,335 108,335 109.5,335 111.1,335 112.7,335 114.3,335 115.9,335 117.4,335 119,335 120.6,335 122.2,335 123.8,335 125.3,335 126.9,334.8 128.5,334.7 130.1,334.4 131.7,334 133.2,333.5 134.8,332.8 136.4,331.9 138,330.7 139.6,329.2 141.1,327.2 142.7,324.7 144.3,322 145.9,319 147.5,315.7 149,312 150.6,307.6 152.2,302.6 153.8,297.2 155.4,291.6 156.9,286.1 158.5,280.8 160.1,275.8 161.7,271.1 163.3,266.8 164.8,262.7 166.4,258.9 168,255.2 169.6,251.5 171.2,248 172.7,244.6 174.3,241.6 175.9,238.7 177.5,236.2 179.1,234 180.6,232 182.2,230.2 183.8,228.5 185.4,226.9 187,225.5 188.5,224.2 190.1,222.9 191.7,221.7 193.3,220.7 194.9,219.7 196.4,218.8 198,218 199.6,217.2 201.2,216.5 202.8,215.8 204.3,215.2 205.9,214.6 207.5,214.1 209.1,213.6 210.7,213.1 212.2,212.7 213.8,212.3 215.4,211.9 217,211.5 218.6,211.2 220.1,210.9 221.7,210.5 223.3,210.3 224.9,210 226.5,209.7 228,209.5 229.6,209.2 231.2,209 232.8,208.8 234.3,208.6 235.9,208.3 237.5,208.1 239.1,207.9 240.7,207.7 242.2,207.5 243.8,207.3 245.4,207.1 247,206.9 248.6,206.7 250.1,206.5 251.7,206.4 253.3,206.2 254.9,206.1 256.5,205.9 258,205.8 259.6,205.7 261.2,205.6 262.8,205.5 264.4,205.4 265.9,205.3 267.5,205.2 269.1,205.1 270.7,204.9 272.3,204.8 273.8,204.7 275.4,204.6 277,204.5 278.6,204.4 280.2,204.3 281.7,204.2 283.3,204.1 284.9,204 286.5,203.9 288.1,203.8" stroke="#800080" stroke-width="1.0" marker-start="url(#mb9)" marker-mid="url(#mb9)" marker-end="url(#mb9)"/>
</g>
<line x1="46.4" y1="222.3" x2="289.4" y2="206.5" stroke="#000" stroke-width="1.2" stroke-dasharray="7 2.4 1.6 2.4"/>
<line x1="47.4" y1="278.7" x2="289.4" y2="270.8" stroke="#000" stroke-width="1.3" stroke-dasharray="1.4 3.6"/>
<g stroke="#6e6e6e" stroke-width="1.1" fill="none">
<rect x="46.5" y="175.85" width="242.8" height="159.85"/>
<path d="M70.66 335.7v-2.2M70.66 175.85v2.2M94.96 335.7v-1.7M94.96 175.85v1.7M119.26 335.7v-2.2M119.26 175.85v2.2M143.57 335.7v-1.7M143.57 175.85v1.7M167.88 335.7v-2.2M167.88 175.85v2.2M192.18 335.7v-1.7M192.18 175.85v1.7M216.48 335.7v-2.2M216.48 175.85v2.2M240.79 335.7v-1.7M240.79 175.85v1.7M265.09 335.7v-2.2M265.09 175.85v2.2M46.5 310.39h1.7M289.3 310.39h-1.7M46.5 285.41h2.2M289.3 285.41h-2.2M46.5 260.42h1.7M289.3 260.42h-1.7M46.5 235.44h2.2M289.3 235.44h-2.2M46.5 210.45h1.7M289.3 210.45h-1.7M46.5 185.47h2.2M289.3 185.47h-2.2"/>
</g>
<g font-size="14" text-anchor="middle">
<text x="70.7" y="347.9">8</text>
<text x="119.3" y="347.9">10</text>
<text x="167.9" y="347.9">12</text>
<text x="216.5" y="347.9">14</text>
<text x="265.1" y="347.9">16</text>
</g>
<g font-size="14" text-anchor="end">
<text x="44.1" y="339.8">0</text>
<text x="44.1" y="289.8">0.05</text>
<text x="44.1" y="239.8">0.10</text>
<text x="44.1" y="189.8">0.15</text>
</g>
<path d="M239.9 309.8L130.3 310.9" stroke="#000" stroke-width="2.2" fill="none"/>
<path d="M127.3 310.9l6.5 -2.4v4.8z" fill="#000"/>
<text x="51.5" y="193.7" font-size="15.5" letter-spacing="0.5">(b)</text>
<text x="182.5" y="197.9" font-size="18">FeSe</text>
<text x="231.9" y="197.9" font-size="18" font-style="italic">B</text>
<text x="246.7" y="197.9" font-size="18" letter-spacing="1.4">//</text>
<text x="261.1" y="197.9" font-size="18" font-style="italic">ab</text>
<text x="51.2" y="214.6" font-size="14.5" font-style="italic">ρ</text>
<text x="59.1" y="220.3" font-size="10">n</text>
<text x="51.4" y="271.9" font-size="14.5" font-style="italic">ρ</text>
<text x="59.3" y="277.6" font-size="10">n</text>
<text x="67.7" y="271.9" font-size="16">×</text>
<text x="80.1" y="271.9" font-size="16">0.5</text>
<text x="125.1" y="317.1" font-size="14.8" text-anchor="end">9 T</text>
<text x="244" y="316" font-size="14.8">0 T</text>
</g>
<g id="panel_c">
<clipPath id="clip_c"><rect x="323.45" y="0.5" width="244.45" height="161.2"/></clipPath>
<g clip-path="url(#clip_c)" fill="none" stroke-linejoin="round">
<polyline points="323.8,160 325.6,160 327.4,160 329.2,160 331,160 332.8,160 334.6,160 336.3,160 338.1,160 339.9,160 341.7,160 343.5,160 345.3,160 347.1,160 348.9,160 350.7,160 352.5,160 354.3,160 356.1,160 357.9,160 359.7,160 361.4,160 363.2,160 365,160 366.8,160 368.6,160 370.4,160 372.2,160 374,160 375.8,160 377.6,160 379.4,160 381.2,160 383,160 384.8,160 386.5,160 388.3,160 390.1,160 391.9,160 393.7,160 395.5,160 397.3,160 399.1,160 400.9,160 402.7,160 404.5,160 406.3,160 408.1,160 409.9,160 411.6,160 413.4,160 415.2,160 417,160 418.8,160 420.6,160 422.4,160 424.2,160 426,160 427.8,160 429.6,160 431.4,160 433.2,160 434.9,160 436.7,160 438.5,160 440.3,160 442.1,160 443.9,160 445.7,160 447.5,160 449.3,160 451.1,159.9 452.9,159.5 454.7,157.9 456.5,154.4 458.3,149.3 460,143.5 461.8,138 463.6,132.6 465.4,127.3 467.2,122 469,116.5 470.8,110.9 472.6,105.2 474.4,99.6 476.2,94.3 478,89.3 479.8,84.3 481.6,79.4 483.4,74.6 485.1,70.5 486.9,67 488.7,64 490.5,61.2 492.3,58.8 494.1,56.6 495.9,54.5 497.7,52.7 499.5,51 501.3,49.3 503.1,47.8 504.9,46.4 506.7,45.1 508.5,44 510.2,43 512,42.1 513.8,41.2 515.6,40.5 517.4,39.7 519.2,39 521,38.4 522.8,37.7 524.6,37 526.4,36.4 528.2,35.8 530,35.2 531.8,34.6 533.6,34.1 535.3,33.6 537.1,33.1 538.9,32.6 540.7,32.1 542.5,31.6 544.3,31.2 546.1,30.8 547.9,30.5 549.7,30.4 551.5,30.2 553.3,30 555.1,29.8 556.9,29.7 558.6,29.5 560.4,29.3 562.2,29.1 564,29 565.8,28.8" stroke="#000000" stroke-width="1.0" marker-start="url(#mc0)" marker-mid="url(#mc0)" marker-end="url(#mc0)"/>
<polyline points="323.8,160 325.6,160 327.4,160 329.2,160 331,160 332.8,160 334.6,160 336.3,160 338.1,160 339.9,160 341.7,160 343.5,160 345.3,160 347.1,160 348.9,160 350.7,160 352.5,160 354.3,160 356.1,160 357.9,160 359.7,160 361.4,160 363.2,160 365,160 366.8,160 368.6,160 370.4,160 372.2,160 374,160 375.8,160 377.6,160 379.4,160 381.2,160 383,160 384.8,160 386.5,160 388.3,160 390.1,160 391.9,160 393.7,160 395.5,160 397.3,160 399.1,160 400.9,160 402.7,160 404.5,160 406.3,160 408.1,160 409.9,160 411.6,160 413.4,160 415.2,160 417,160 418.8,160 420.6,160 422.4,160 424.2,160 426,160 427.8,160 429.6,160 431.4,160 433.2,160 434.9,160 436.7,160 438.5,159.9 440.3,159.6 442.1,159 443.9,157.8 445.7,155.8 447.5,153.2 449.3,149.9 451.1,146 452.9,141.9 454.7,137.6 456.5,133.1 458.3,128.7 460,124.3 461.8,119.8 463.6,115.1 465.4,110.4 467.2,105.6 469,100.9 470.8,96.3 472.6,91.8 474.4,87.4 476.2,83 478,78.6 479.8,74.5 481.6,70.8 483.4,67.6 485.1,64.7 486.9,62.1 488.7,59.7 490.5,57.6 492.3,55.6 494.1,53.8 495.9,52.1 497.7,50.5 499.5,49.1 501.3,47.6 503.1,46.3 504.9,45.1 506.7,44 508.5,43.1 510.2,42.2 512,41.4 513.8,40.7 515.6,40 517.4,39.3 519.2,38.6 521,38 522.8,37.3 524.6,36.7 526.4,36.1 528.2,35.5 530,35 531.8,34.4 533.6,33.9 535.3,33.4 537.1,32.9 538.9,32.5 540.7,32 542.5,31.5 544.3,31.1 546.1,30.7 547.9,30.5 549.7,30.3 551.5,30.1 553.3,29.9 555.1,29.8 556.9,29.6 558.6,29.4 560.4,29.3 562.2,29.1 564,28.9 565.8,28.7" stroke="#ff0000" stroke-width="1.0" marker-start="url(#mc1)" marker-mid="url(#mc1)" marker-end="url(#mc1)"/>
<polyline points="323.8,160 325.6,160 327.4,160 329.2,160 331,160 332.8,160 334.6,160 336.3,160 338.1,160 339.9,160 341.7,160 343.5,160 345.3,160 347.1,160 348.9,160 350.7,160 352.5,160 354.3,160 356.1,160 357.9,160 359.7,160 361.4,160 363.2,160 365,160 366.8,160 368.6,160 370.4,160 372.2,160 374,160 375.8,160 377.6,160 379.4,160 381.2,160 383,160 384.8,160 386.5,160 388.3,160 390.1,160 391.9,160 393.7,160 395.5,160 397.3,160 399.1,160 400.9,160 402.7,160 404.5,160 406.3,160 408.1,160 409.9,160 411.6,160 413.4,160 415.2,160 417,160 418.8,160 420.6,160 422.4,160 424.2,159.9 426,159.8 427.8,159.5 429.6,159 431.4,158.2 433.2,157.1 434.9,155.6 436.7,153.7 438.5,151.5 440.3,148.9 442.1,146 443.9,142.8 445.7,139.3 447.5,135.6 449.3,131.8 451.1,128 452.9,124.2 454.7,120.4 456.5,116.4 458.3,112.4 460,108.3 461.8,104.2 463.6,100.1 465.4,96.1 467.2,92.1 469,88.1 470.8,84.2 472.6,80.3 474.4,76.5 476.2,73 478,69.9 479.8,67 481.6,64.4 483.4,62 485.1,59.9 486.9,57.9 488.7,56 490.5,54.3 492.3,52.7 494.1,51.2 495.9,49.8 497.7,48.4 499.5,47.2 501.3,46 503.1,44.9 504.9,43.9 506.7,43 508.5,42.2 510.2,41.4 512,40.7 513.8,40 515.6,39.4 517.4,38.8 519.2,38.1 521,37.5 522.8,36.9 524.6,36.4 526.4,35.8 528.2,35.2 530,34.7 531.8,34.2 533.6,33.7 535.3,33.3 537.1,32.8 538.9,32.4 540.7,31.9 542.5,31.5 544.3,31 546.1,30.7 547.9,30.4 549.7,30.3 551.5,30.1 553.3,29.9 555.1,29.7 556.9,29.5 558.6,29.4 560.4,29.2 562.2,29 564,28.8 565.8,28.7" stroke="#00ff00" stroke-width="1.0" marker-start="url(#mc2)" marker-mid="url(#mc2)" marker-end="url(#mc2)"/>
<polyline points="323.8,160 325.6,160 327.4,160 329.2,160 331,160 332.8,160 334.6,160 336.3,160 338.1,160 339.9,160 341.7,160 343.5,160 345.3,160 347.1,160 348.9,160 350.7,160 352.5,160 354.3,160 356.1,160 357.9,160 359.7,160 361.4,160 363.2,160 365,160 366.8,160 368.6,160 370.4,160 372.2,160 374,160 375.8,160 377.6,160 379.4,160 381.2,160 383,160 384.8,160 386.5,160 388.3,160 390.1,160 391.9,160 393.7,160 395.5,160 397.3,160 399.1,160 400.9,160 402.7,160 404.5,160 406.3,160 408.1,160 409.9,160 411.6,159.9 413.4,159.7 415.2,159.5 417,159.1 418.8,158.6 420.6,157.9 422.4,157 424.2,155.8 426,154.4 427.8,152.8 429.6,150.9 431.4,148.8 433.2,146.4 434.9,143.7 436.7,140.8 438.5,137.6 440.3,134.2 442.1,130.8 443.9,127.4 445.7,124 447.5,120.5 449.3,117 451.1,113.4 452.9,109.7 454.7,106.1 456.5,102.4 458.3,98.7 460,95.1 461.8,91.4 463.6,87.8 465.4,84.2 467.2,80.7 469,77.2 470.8,73.9 472.6,70.9 474.4,68.2 476.2,65.7 478,63.4 479.8,61.3 481.6,59.3 483.4,57.5 485.1,55.8 486.9,54.3 488.7,52.8 490.5,51.4 492.3,50.1 494.1,48.8 495.9,47.6 497.7,46.5 499.5,45.4 501.3,44.4 503.1,43.6 504.9,42.8 506.7,42 508.5,41.3 510.2,40.6 512,40 513.8,39.4 515.6,38.8 517.4,38.2 519.2,37.7 521,37.1 522.8,36.5 524.6,36 526.4,35.5 528.2,35 530,34.5 531.8,34 533.6,33.5 535.3,33.1 537.1,32.7 538.9,32.2 540.7,31.8 542.5,31.4 544.3,31 546.1,30.6 547.9,30.4 549.7,30.2 551.5,30 553.3,29.9 555.1,29.7 556.9,29.5 558.6,29.3 560.4,29.1 562.2,29 564,28.8 565.8,28.6" stroke="#0000ff" stroke-width="1.0" marker-start="url(#mc3)" marker-mid="url(#mc3)" marker-end="url(#mc3)"/>
<polyline points="323.8,160 325.6,160 327.4,160 329.2,160 331,160 332.8,160 334.6,160 336.3,160 338.1,160 339.9,160 341.7,160 343.5,160 345.3,160 347.1,160 348.9,160 350.7,160 352.5,160 354.3,160 356.1,160 357.9,160 359.7,160 361.4,160 363.2,160 365,160 366.8,160 368.6,160 370.4,160 372.2,160 374,160 375.8,160 377.6,160 379.4,160 381.2,160 383,160 384.8,160 386.5,160 388.3,160 390.1,160 391.9,160 393.7,160 395.5,160 397.3,160 399.1,160 400.9,159.9 402.7,159.7 404.5,159.5 406.3,159.2 408.1,158.9 409.9,158.4 411.6,157.7 413.4,156.9 415.2,155.8 417,154.7 418.8,153.3 420.6,151.8 422.4,150.1 424.2,148.1 426,146 427.8,143.6 429.6,140.9 431.4,138 433.2,134.9 434.9,131.8 436.7,128.6 438.5,125.4 440.3,122.2 442.1,118.9 443.9,115.6 445.7,112.3 447.5,108.9 449.3,105.5 451.1,102.1 452.9,98.7 454.7,95.3 456.5,91.9 458.3,88.5 460,85.1 461.8,81.8 463.6,78.5 465.4,75.4 467.2,72.5 469,69.8 470.8,67.4 472.6,65.1 474.4,63 476.2,61 478,59.2 479.8,57.5 481.6,55.9 483.4,54.4 485.1,53 486.9,51.7 488.7,50.5 490.5,49.3 492.3,48.1 494.1,47 495.9,46 497.7,45 499.5,44.2 501.3,43.4 503.1,42.6 504.9,41.9 506.7,41.3 508.5,40.6 510.2,40 512,39.5 513.8,38.9 515.6,38.3 517.4,37.8 519.2,37.3 521,36.7 522.8,36.2 524.6,35.7 526.4,35.2 528.2,34.7 530,34.3 531.8,33.8 533.6,33.4 535.3,33 537.1,32.5 538.9,32.1 540.7,31.7 542.5,31.3 544.3,30.9 546.1,30.6 547.9,30.3 549.7,30.2 551.5,30 553.3,29.8 555.1,29.6 556.9,29.4 558.6,29.3 560.4,29.1 562.2,28.9 564,28.7 565.8,28.6" stroke="#00ffff" stroke-width="1.0" marker-start="url(#mc4)" marker-mid="url(#mc4)" marker-end="url(#mc4)"/>
<polyline points="323.8,160 325.6,160 327.4,160 329.2,160 331,160 332.8,160 334.6,160 336.3,160 338.1,160 339.9,160 341.7,160 343.5,160 345.3,160 347.1,160 348.9,160 350.7,160 352.5,160 354.3,160 356.1,160 357.9,160 359.7,160 361.4,160 363.2,160 365,160 366.8,160 368.6,160 370.4,160 372.2,160 374,160 375.8,160 377.6,160 379.4,160 381.2,160 383,160 384.8,160 386.5,160 388.3,159.9 390.1,159.8 391.9,159.7 393.7,159.5 395.5,159.3 397.3,159 399.1,158.6 400.9,158.1 402.7,157.5 404.5,156.7 406.3,155.8 408.1,154.7 409.9,153.6 411.6,152.3 413.4,150.8 415.2,149.2 417,147.4 418.8,145.4 420.6,143.2 422.4,140.7 424.2,137.9 426,135 427.8,132.1 429.6,129.2 431.4,126.2 433.2,123.2 434.9,120.1 436.7,117 438.5,113.9 440.3,110.8 442.1,107.6 443.9,104.5 445.7,101.3 447.5,98.1 449.3,94.9 451.1,91.6 452.9,88.4 454.7,85.2 456.5,82.1 458.3,79.1 460,76.1 461.8,73.3 463.6,70.8 465.4,68.4 467.2,66.2 469,64.1 470.8,62.2 472.6,60.4 474.4,58.7 476.2,57.2 478,55.7 479.8,54.4 481.6,53.1 483.4,51.8 485.1,50.7 486.9,49.6 488.7,48.5 490.5,47.4 492.3,46.4 494.1,45.5 495.9,44.6 497.7,43.8 499.5,43.1 501.3,42.4 503.1,41.8 504.9,41.2 506.7,40.6 508.5,40 510.2,39.5 512,38.9 513.8,38.4 515.6,37.9 517.4,37.4 519.2,36.9 521,36.4 522.8,35.9 524.6,35.4 526.4,34.9 528.2,34.5 530,34.1 531.8,33.6 533.6,33.2 535.3,32.8 537.1,32.4 538.9,32 540.7,31.6 542.5,31.2 544.3,30.9 546.1,30.5 547.9,30.3 549.7,30.1 551.5,29.9 553.3,29.7 555.1,29.6 556.9,29.4 558.6,29.2 560.4,29 562.2,28.9 564,28.7 565.8,28.5" stroke="#ff00ff" stroke-width="1.0" marker-start="url(#mc5)" marker-mid="url(#mc5)" marker-end="url(#mc5)"/>
<polyline points="323.8,160 325.6,160 327.4,160 329.2,160 331,160 332.8,160 334.6,160 336.3,160 338.1,160 339.9,160 341.7,160 343.5,160 345.3,160 347.1,160 348.9,160 350.7,160 352.5,160 354.3,160 356.1,160 357.9,160 359.7,160 361.4,160 363.2,160 365,160 366.8,160 368.6,160 370.4,160 372.2,160 374,160 375.8,159.9 377.6,159.9 379.4,159.7 381.2,159.6 383,159.4 384.8,159.2 386.5,158.9 388.3,158.5 390.1,158.1 391.9,157.6 393.7,156.9 395.5,156.2 397.3,155.3 399.1,154.4 400.9,153.3 402.7,152.2 404.5,150.9 406.3,149.4 408.1,147.8 409.9,146.1 411.6,144.2 413.4,142.1 415.2,139.6 417,137 418.8,134.3 420.6,131.6 422.4,128.8 424.2,126.1 426,123.2 427.8,120.4 429.6,117.5 431.4,114.6 433.2,111.7 434.9,108.8 436.7,105.9 438.5,102.9 440.3,100 442.1,97 443.9,93.9 445.7,90.9 447.5,87.9 449.3,84.9 451.1,82 452.9,79.1 454.7,76.4 456.5,73.8 458.3,71.4 460,69.1 461.8,67 463.6,65 465.4,63.1 467.2,61.4 469,59.7 470.8,58.2 472.6,56.8 474.4,55.5 476.2,54.2 478,53 479.8,51.9 481.6,50.8 483.4,49.7 485.1,48.7 486.9,47.7 488.7,46.8 490.5,45.9 492.3,45.1 494.1,44.3 495.9,43.6 497.7,42.9 499.5,42.2 501.3,41.6 503.1,41.1 504.9,40.5 506.7,40 508.5,39.5 510.2,39 512,38.5 513.8,38 515.6,37.5 517.4,37 519.2,36.5 521,36.1 522.8,35.6 524.6,35.1 526.4,34.7 528.2,34.3 530,33.9 531.8,33.5 533.6,33.1 535.3,32.7 537.1,32.3 538.9,31.9 540.7,31.5 542.5,31.1 544.3,30.8 546.1,30.5 547.9,30.2 549.7,30 551.5,29.9 553.3,29.7 555.1,29.5 556.9,29.3 558.6,29.2 560.4,29 562.2,28.8 564,28.6 565.8,28.5" stroke="#ffff00" stroke-width="1.0" marker-start="url(#mc6)" marker-mid="url(#mc6)" marker-end="url(#mc6)"/>
<polyline points="323.8,160 325.6,160 327.4,160 329.2,160 331,160 332.8,160 334.6,160 336.3,160 338.1,160 339.9,160 341.7,160 343.5,160 345.3,160 347.1,160 348.9,160 350.7,160 352.5,160 354.3,160 356.1,160 357.9,160 359.7,160 361.4,160 363.2,160 365,159.9 366.8,159.9 368.6,159.8 370.4,159.6 372.2,159.5 374,159.3 375.8,159 377.6,158.7 379.4,158.4 381.2,158 383,157.5 384.8,156.9 386.5,156.2 388.3,155.5 390.1,154.7 391.9,153.7 393.7,152.7 395.5,151.6 397.3,150.4 399.1,149 400.9,147.6 402.7,146 404.5,144.2 406.3,142.2 408.1,140 409.9,137.5 411.6,135 413.4,132.4 415.2,129.8 417,127.2 418.8,124.6 420.6,121.9 422.4,119.2 424.2,116.4 426,113.7 427.8,111 429.6,108.3 431.4,105.5 433.2,102.7 434.9,99.9 436.7,97.1 438.5,94.2 440.3,91.3 442.1,88.4 443.9,85.6 445.7,82.8 447.5,80.1 449.3,77.5 451.1,75 452.9,72.6 454.7,70.4 456.5,68.3 458.3,66.4 460,64.5 461.8,62.7 463.6,61.1 465.4,59.6 467.2,58.2 469,56.9 470.8,55.6 472.6,54.4 474.4,53.3 476.2,52.2 478,51.1 479.8,50.1 481.6,49.2 483.4,48.2 485.1,47.3 486.9,46.4 488.7,45.6 490.5,44.8 492.3,44.1 494.1,43.4 495.9,42.8 497.7,42.2 499.5,41.6 501.3,41.1 503.1,40.5 504.9,40 506.7,39.5 508.5,39.1 510.2,38.6 512,38.1 513.8,37.6 515.6,37.2 517.4,36.7 519.2,36.2 521,35.8 522.8,35.4 524.6,34.9 526.4,34.5 528.2,34.1 530,33.7 531.8,33.3 533.6,32.9 535.3,32.6 537.1,32.2 538.9,31.8 540.7,31.4 542.5,31.1 544.3,30.7 546.1,30.4 547.9,30.2 549.7,30 551.5,29.8 553.3,29.6 555.1,29.5 556.9,29.3 558.6,29.1 560.4,28.9 562.2,28.7 564,28.6 565.8,28.4" stroke="#808000" stroke-width="1.0" marker-start="url(#mc7)" marker-mid="url(#mc7)" marker-end="url(#mc7)"/>
<polyline points="323.8,160 325.6,160 327.4,160 329.2,160 331,160 332.8,160 334.6,160 336.3,160 338.1,160 339.9,160 341.7,160 343.5,160 345.3,160 347.1,160 348.9,160 350.7,160 352.5,160 354.3,159.9 356.1,159.8 357.9,159.7 359.7,159.6 361.4,159.5 363.2,159.3 365,159.1 366.8,158.9 368.6,158.6 370.4,158.3 372.2,157.9 374,157.4 375.8,156.8 377.6,156.2 379.4,155.5 381.2,154.8 383,154 384.8,153.1 386.5,152.1 388.3,151 390.1,149.9 391.9,148.6 393.7,147.2 395.5,145.7 397.3,144.1 399.1,142.2 400.9,140 402.7,137.7 404.5,135.3 406.3,132.9 408.1,130.4 409.9,127.9 411.6,125.4 413.4,122.9 415.2,120.3 417,117.7 418.8,115.1 420.6,112.5 422.4,109.9 424.2,107.4 426,104.7 427.8,102.1 429.6,99.4 431.4,96.7 433.2,94 434.9,91.2 436.7,88.4 438.5,85.7 440.3,83.1 442.1,80.6 443.9,78.1 445.7,75.7 447.5,73.4 449.3,71.2 451.1,69.2 452.9,67.3 454.7,65.5 456.5,63.8 458.3,62.2 460,60.7 461.8,59.3 463.6,58 465.4,56.7 467.2,55.5 469,54.4 470.8,53.3 472.6,52.3 474.4,51.3 476.2,50.4 478,49.4 479.8,48.5 481.6,47.7 483.4,46.8 485.1,46 486.9,45.2 488.7,44.5 490.5,43.9 492.3,43.2 494.1,42.7 495.9,42.1 497.7,41.6 499.5,41 501.3,40.5 503.1,40.1 504.9,39.6 506.7,39.1 508.5,38.6 510.2,38.2 512,37.7 513.8,37.3 515.6,36.8 517.4,36.4 519.2,36 521,35.5 522.8,35.1 524.6,34.7 526.4,34.3 528.2,33.9 530,33.5 531.8,33.2 533.6,32.8 535.3,32.4 537.1,32.1 538.9,31.7 540.7,31.3 542.5,31 544.3,30.7 546.1,30.4 547.9,30.1 549.7,29.9 551.5,29.8 553.3,29.6 555.1,29.4 556.9,29.2 558.6,29 560.4,28.9 562.2,28.7 564,28.5 565.8,28.3" stroke="#000080" stroke-width="1.0" marker-start="url(#mc8)" marker-mid="url(#mc8)" marker-end="url(#mc8)"/>
<polyline points="323.8,160 325.6,160 327.4,160 329.2,160 331,160 332.8,160 334.6,160 336.3,160 338.1,160 339.9,160 341.7,160 343.5,159.9 345.3,159.9 347.1,159.8 348.9,159.7 350.7,159.6 352.5,159.5 354.3,159.3 356.1,159.1 357.9,158.9 359.7,158.6 361.4,158.4 363.2,158 365,157.6 366.8,157.1 368.6,156.5 370.4,155.9 372.2,155.3 374,154.6 375.8,153.8 377.6,152.9 379.4,152 381.2,151 383,149.9 384.8,148.7 386.5,147.4 388.3,146 390.1,144.5 391.9,142.7 393.7,140.7 395.5,138.5 397.3,136.2 399.1,133.8 400.9,131.4 402.7,129.1 404.5,126.6 406.3,124.2 408.1,121.7 409.9,119.2 411.6,116.7 413.4,114.2 415.2,111.7 417,109.2 418.8,106.7 420.6,104.2 422.4,101.7 424.2,99.1 426,96.5 427.8,93.8 429.6,91.1 431.4,88.4 433.2,85.8 434.9,83.3 436.7,80.9 438.5,78.5 440.3,76.2 442.1,73.9 443.9,71.9 445.7,69.9 447.5,68.1 449.3,66.3 451.1,64.6 452.9,63 454.7,61.6 456.5,60.2 458.3,58.9 460,57.7 461.8,56.5 463.6,55.4 465.4,54.3 467.2,53.3 469,52.4 470.8,51.4 472.6,50.5 474.4,49.6 476.2,48.8 478,47.9 479.8,47.1 481.6,46.4 483.4,45.6 485.1,44.9 486.9,44.3 488.7,43.6 490.5,43.1 492.3,42.5 494.1,42 495.9,41.5 497.7,41 499.5,40.5 501.3,40.1 503.1,39.6 504.9,39.2 506.7,38.7 508.5,38.3 510.2,37.8 512,37.4 513.8,37 515.6,36.5 517.4,36.1 519.2,35.7 521,35.3 522.8,34.9 524.6,34.5 526.4,34.1 528.2,33.8 530,33.4 531.8,33 533.6,32.7 535.3,32.3 537.1,32 538.9,31.6 540.7,31.3 542.5,30.9 544.3,30.6 546.1,30.3 547.9,30.1 549.7,29.9 551.5,29.7 553.3,29.5 555.1,29.3 556.9,29.2 558.6,29 560.4,28.8 562.2,28.6 564,28.5 565.8,28.3" stroke="#800080" stroke-width="1.0" marker-start="url(#mc9)" marker-mid="url(#mc9)" marker-end="url(#mc9)"/>
</g>
<line x1="323.8" y1="51.6" x2="567.1" y2="27.8" stroke="#000" stroke-width="1.2" stroke-dasharray="7 2.4 1.6 2.4"/>
<line x1="324.8" y1="105.8" x2="567.1" y2="93.9" stroke="#000" stroke-width="1.3" stroke-dasharray="1.4 3.6"/>
<g stroke="#6e6e6e" stroke-width="1.1" fill="none">
<rect x="324.05" y="0.5" width="243.35" height="159.75"/>
<path d="M336.61 160.25v-2.2M336.61 0.5v2.2M362.22 160.25v-1.7M362.22 0.5v1.7M387.83 160.25v-2.2M387.83 0.5v2.2M413.44 160.25v-1.7M413.44 0.5v1.7M439.05 160.25v-2.2M439.05 0.5v2.2M464.66 160.25v-1.7M464.66 0.5v1.7M490.27 160.25v-2.2M490.27 0.5v2.2M515.88 160.25v-1.7M515.88 0.5v1.7M541.49 160.25v-2.2M541.49 0.5v2.2M324.05 141.14h1.7M567.4 141.14h-1.7M324.05 122.16h2.2M567.4 122.16h-2.2M324.05 103.18h1.7M567.4 103.18h-1.7M324.05 84.2h2.2M567.4 84.2h-2.2M324.05 65.22h1.7M567.4 65.22h-1.7M324.05 46.24h2.2M567.4 46.24h-2.2M324.05 27.25h1.7M567.4 27.25h-1.7M324.05 8.27h2.2M567.4 8.27h-2.2"/>
</g>
<g font-size="14" text-anchor="middle">
<text x="336.6" y="172.9">16</text>
<text x="387.8" y="172.9">18</text>
<text x="439" y="172.9">20</text>
<text x="490.3" y="172.9">22</text>
<text x="541.5" y="172.9">24</text>
</g>
<g font-size="14" text-anchor="end">
<text x="321.5" y="164.7">0</text>
<text x="321.5" y="126.7">0.05</text>
<text x="321.5" y="88.8">0.10</text>
<text x="321.5" y="50.8">0.15</text>
<text x="321.5" y="12.8">0.20</text>
</g>
<path d="M484.1 117.9L388.9 117.9" stroke="#000" stroke-width="2.2" fill="none"/>
<path d="M385.9 117.9l6.5 -2.4v4.8z" fill="#000"/>
<text x="329.1" y="18.4" font-size="15.5" letter-spacing="0.5">(c)</text>
<text x="416.4" y="21.2" font-size="18">FeSe</text>
<text x="451.9" y="28.2" font-size="10.2">0.7</text>
<text x="465.3" y="21.2" font-size="18">Te</text>
<text x="483.6" y="28.2" font-size="10.2">0.3</text>
<text x="510.6" y="21.2" font-size="18" font-style="italic">B</text>
<text x="525.4" y="21.2" font-size="18" letter-spacing="1.4">//</text>
<text x="539.8" y="21.2" font-size="18" font-style="italic">c</text>
<text x="331.1" y="38.9" font-size="14.5" font-style="italic">ρ</text>
<text x="339" y="44.6" font-size="10">n</text>
<text x="326.9" y="99.1" font-size="14.5" font-style="italic">ρ</text>
<text x="334.8" y="104.8" font-size="10">n</text>
<text x="343.2" y="99.1" font-size="16">×</text>
<text x="355.6" y="99.1" font-size="16">0.5</text>
<text x="382.9" y="124.6" font-size="14.8" text-anchor="end">9 T</text>
<text x="486.8" y="124.6" font-size="14.8">0 T</text>
</g>
<g id="panel_d">
<clipPath id="clip_d"><rect x="323.45" y="175.85" width="244.45" height="160.9"/></clipPath>
<g clip-path="url(#clip_d)" fill="none" stroke-linejoin="round">
<polyline points="323.8,335.1 325.6,335.1 327.4,335.1 329.2,335.1 331,335.1 332.8,335.1 334.6,335.1 336.3,335.1 338.1,335.1 339.9,335.1 341.7,335.1 343.5,335.1 345.3,335.1 347.1,335.1 348.9,335.1 350.7,335.1 352.5,335.1 354.3,335.1 356.1,335.1 357.9,335.1 359.7,335.1 361.4,335.1 363.2,335.1 365,335.1 366.8,335.1 368.6,335.1 370.4,335.1 372.2,335.1 374,335.1 375.8,335.1 377.6,335.1 379.4,335.1 381.2,335.1 383,335.1 384.8,335.1 386.5,335.1 388.3,335.1 390.1,335.1 391.9,335.1 393.7,335.1 395.5,335.1 397.3,335.1 399.1,335.1 400.9,335.1 402.7,335.1 404.5,335.1 406.3,335.1 408.1,335.1 409.9,335.1 411.6,335.1 413.4,335.1 415.2,335.1 417,335.1 418.8,335.1 420.6,335.1 422.4,335.1 424.2,335.1 426,335 427.8,335 429.6,335 431.4,335 433.2,335 434.9,335 436.7,335 438.5,335 440.3,335 442.1,335 443.9,335 445.7,335 447.5,335 449.3,335 451.1,335 452.9,334.9 454.7,334.5 456.5,333.4 458.3,331 460,327.8 461.8,324.2 463.6,320 465.4,315.3 467.2,310 469,304.2 470.8,298.3 472.6,292.3 474.4,286.4 476.2,280.8 478,275.3 479.8,269.7 481.6,263.9 483.4,258.1 485.1,252.2 486.9,246.7 488.7,242.2 490.5,238.7 492.3,235.8 494.1,233.2 495.9,230.8 497.7,228.5 499.5,226.4 501.3,224.5 503.1,222.7 504.9,221.2 506.7,219.8 508.5,218.4 510.2,217.2 512,216 513.8,215 515.6,214 517.4,213.2 519.2,212.5 521,211.8 522.8,211.1 524.6,210.5 526.4,209.9 528.2,209.4 530,208.9 531.8,208.5 533.6,208.1 535.3,207.7 537.1,207.3 538.9,206.9 540.7,206.6 542.5,206.2 544.3,205.9 546.1,205.6 547.9,205.3 549.7,205.1 551.5,204.8 553.3,204.6 555.1,204.4 556.9,204.2 558.6,204 560.4,203.7 562.2,203.5 564,203.4 565.8,203.2" stroke="#000000" stroke-width="1.0" marker-start="url(#md0)" marker-mid="url(#md0)" marker-end="url(#md0)"/>
<polyline points="323.8,335.1 325.6,335.1 327.4,335.1 329.2,335.1 331,335.1 332.8,335.1 334.6,335.1 336.3,335.1 338.1,335.1 339.9,335.1 341.7,335.1 343.5,335.1 345.3,335.1 347.1,335.1 348.9,335.1 350.7,335.1 352.5,335.1 354.3,335.1 356.1,335.1 357.9,335.1 359.7,335.1 361.4,335.1 363.2,335.1 365,335.1 366.8,335.1 368.6,335.1 370.4,335.1 372.2,335.1 374,335.1 375.8,335.1 377.6,335.1 379.4,335.1 381.2,335.1 383,335.1 384.8,335.1 386.5,335.1 388.3,335.1 390.1,335.1 391.9,335.1 393.7,335.1 395.5,335.1 397.3,335.1 399.1,335.1 400.9,335.1 402.7,335.1 404.5,335.1 406.3,335.1 408.1,335.1 409.9,335.1 411.6,335.1 413.4,335.1 415.2,335.1 417,335.1 418.8,335.1 420.6,335.1 422.4,335.1 424.2,335 426,335 427.8,335 429.6,335 431.4,335 433.2,335 434.9,335 436.7,335 438.5,335 440.3,335 442.1,335 443.9,335 445.7,335 447.5,335 449.3,335 451.1,334.8 452.9,334.4 454.7,333.2 456.5,331.1 458.3,328.1 460,324.8 461.8,320.9 463.6,316.5 465.4,311.6 467.2,306 469,300.2 470.8,294.3 472.6,288.4 474.4,282.8 476.2,277.4 478,271.9 479.8,266.3 481.6,260.6 483.4,255 485.1,249.4 486.9,244.4 488.7,240.6 490.5,237.4 492.3,234.6 494.1,232.2 495.9,229.9 497.7,227.7 499.5,225.7 501.3,223.8 503.1,222.2 504.9,220.7 506.7,219.4 508.5,218.1 510.2,216.9 512,215.8 513.8,214.7 515.6,213.9 517.4,213.1 519.2,212.4 521,211.7 522.8,211 524.6,210.4 526.4,209.9 528.2,209.4 530,208.9 531.8,208.5 533.6,208 535.3,207.6 537.1,207.3 538.9,206.9 540.7,206.5 542.5,206.2 544.3,205.9 546.1,205.6 547.9,205.3 549.7,205 551.5,204.8 553.3,204.6 555.1,204.4 556.9,204.1 558.6,203.9 560.4,203.7 562.2,203.5 564,203.4 565.8,203.2" stroke="#ff0000" stroke-width="1.0" marker-start="url(#md1)" marker-mid="url(#md1)" marker-end="url(#md1)"/>
<polyline points="323.8,335.1 325.6,335.1 327.4,335.1 329.2,335.1 331,335.1 332.8,335.1 334.6,335.1 336.3,335.1 338.1,335.1 339.9,335.1 341.7,335.1 343.5,335.1 345.3,335.1 347.1,335.1 348.9,335.1 350.7,335.1 352.5,335.1 354.3,335.1 356.1,335.1 357.9,335.1 359.7,335.1 361.4,335.1 363.2,335.1 365,335.1 366.8,335.1 368.6,335.1 370.4,335.1 372.2,335.1 374,335.1 375.8,335.1 377.6,335.1 379.4,335.1 381.2,335.1 383,335.1 384.8,335.1 386.5,335.1 388.3,335.1 390.1,335.1 391.9,335.1 393.7,335.1 395.5,335.1 397.3,335.1 399.1,335.1 400.9,335.1 402.7,335.1 404.5,335.1 406.3,335.1 408.1,335.1 409.9,335.1 411.6,335.1 413.4,335.1 415.2,335.1 417,335.1 418.8,335.1 420.6,335 422.4,335 424.2,335 426,335 427.8,335 429.6,335 431.4,335 433.2,335 434.9,335 436.7,335 438.5,335 440.3,335 442.1,335 443.9,335 445.7,335 447.5,334.9 449.3,334.6 451.1,334.1 452.9,332.8 454.7,330.8 456.5,328.1 458.3,325 460,321.4 461.8,317.2 463.6,312.5 465.4,307.2 467.2,301.5 469,295.7 470.8,289.9 472.6,284.3 474.4,278.9 476.2,273.6 478,268.1 479.8,262.6 481.6,257.1 483.4,251.6 485.1,246.5 486.9,242.3 488.7,238.9 490.5,236 492.3,233.4 494.1,231.1 495.9,228.8 497.7,226.8 499.5,224.9 501.3,223.2 503.1,221.7 504.9,220.3 506.7,218.9 508.5,217.7 510.2,216.5 512,215.5 513.8,214.5 515.6,213.7 517.4,212.9 519.2,212.2 521,211.6 522.8,210.9 524.6,210.4 526.4,209.8 528.2,209.3 530,208.8 531.8,208.4 533.6,208 535.3,207.6 537.1,207.2 538.9,206.9 540.7,206.5 542.5,206.2 544.3,205.8 546.1,205.5 547.9,205.3 549.7,205 551.5,204.8 553.3,204.6 555.1,204.3 556.9,204.1 558.6,203.9 560.4,203.7 562.2,203.5 564,203.3 565.8,203.2" stroke="#00ff00" stroke-width="1.0" marker-start="url(#md2)" marker-mid="url(#md2)" marker-end="url(#md2)"/>
<polyline points="323.8,335.1 325.6,335.1 327.4,335.1 329.2,335.1 331,335.1 332.8,335.1 334.6,335.1 336.3,335.1 338.1,335.1 339.9,335.1 341.7,335.1 343.5,335.1 345.3,335.1 347.1,335.1 348.9,335.1 350.7,335.1 352.5,335.1 354.3,335.1 356.1,335.1 357.9,335.1 359.7,335.1 361.4,335.1 363.2,335.1 365,335.1 366.8,335.1 368.6,335.1 370.4,335.1 372.2,335.1 374,335.1 375.8,335.1 377.6,335.1 379.4,335.1 381.2,335.1 383,335.1 384.8,335.1 386.5,335.1 388.3,335.1 390.1,335.1 391.9,335.1 393.7,335.1 395.5,335.1 397.3,335.1 399.1,335.1 400.9,335.1 402.7,335.1 404.5,335.1 406.3,335.1 408.1,335.1 409.9,335.1 411.6,335.1 413.4,335.1 415.2,335.1 417,335 418.8,335 420.6,335 422.4,335 424.2,335 426,335 427.8,335 429.6,335 431.4,335 433.2,335 434.9,335 436.7,335 438.5,335 440.3,335 442.1,335 443.9,334.9 445.7,334.7 447.5,334.3 449.3,333.4 451.1,332 452.9,330 454.7,327.3 456.5,324.3 458.3,320.9 460,317 461.8,312.4 463.6,307.2 465.4,301.6 467.2,296 469,290.3 470.8,284.8 472.6,279.5 474.4,274.3 476.2,268.9 478,263.6 479.8,258.3 481.6,253 483.4,248 485.1,243.6 486.9,240 488.7,237 490.5,234.4 492.3,232 494.1,229.8 495.9,227.7 497.7,225.8 499.5,224 501.3,222.4 503.1,221 504.9,219.7 506.7,218.4 508.5,217.3 510.2,216.2 512,215.2 513.8,214.3 515.6,213.5 517.4,212.8 519.2,212.1 521,211.4 522.8,210.8 524.6,210.3 526.4,209.7 528.2,209.2 530,208.8 531.8,208.4 533.6,208 535.3,207.6 537.1,207.2 538.9,206.8 540.7,206.5 542.5,206.1 544.3,205.8 546.1,205.5 547.9,205.3 549.7,205 551.5,204.8 553.3,204.6 555.1,204.3 556.9,204.1 558.6,203.9 560.4,203.7 562.2,203.5 564,203.3 565.8,203.2" stroke="#0000ff" stroke-width="1.0" marker-start="url(#md3)" marker-mid="url(#md3)" marker-end="url(#md3)"/>
<polyline points="323.8,335.1 325.6,335.1 327.4,335.1 329.2,335.1 331,335.1 332.8,335.1 334.6,335.1 336.3,335.1 338.1,335.1 339.9,335.1 341.7,335.1 343.5,335.1 345.3,335.1 347.1,335.1 348.9,335.1 350.7,335.1 352.5,335.1 354.3,335.1 356.1,335.1 357.9,335.1 359.7,335.1 361.4,335.1 363.2,335.1 365,335.1 366.8,335.1 368.6,335.1 370.4,335.1 372.2,335.1 374,335.1 375.8,335.1 377.6,335.1 379.4,335.1 381.2,335.1 383,335.1 384.8,335.1 386.5,335.1 388.3,335.1 390.1,335.1 391.9,335.1 393.7,335.1 395.5,335.1 397.3,335.1 399.1,335.1 400.9,335.1 402.7,335.1 404.5,335.1 406.3,335.1 408.1,335.1 409.9,335.1 411.6,335.1 413.4,335 415.2,335 417,335 418.8,335 420.6,335 422.4,335 424.2,335 426,335 427.8,335 429.6,335 431.4,335 433.2,335 434.9,335 436.7,335 438.5,335 440.3,334.9 442.1,334.7 443.9,334.4 445.7,333.8 447.5,332.8 449.3,331.3 451.1,329.2 452.9,326.7 454.7,323.8 456.5,320.6 458.3,316.8 460,312.3 461.8,307.2 463.6,301.8 465.4,296.2 467.2,290.7 469,285.3 470.8,280 472.6,274.9 474.4,269.7 476.2,264.5 478,259.4 479.8,254.3 481.6,249.4 483.4,244.9 485.1,241.2 486.9,238.1 488.7,235.4 490.5,233 492.3,230.7 494.1,228.6 495.9,226.6 497.7,224.8 499.5,223.2 501.3,221.8 503.1,220.4 504.9,219.2 506.7,218 508.5,216.9 510.2,215.9 512,214.9 513.8,214.1 515.6,213.3 517.4,212.6 519.2,212 521,211.3 522.8,210.7 524.6,210.2 526.4,209.7 528.2,209.2 530,208.7 531.8,208.3 533.6,207.9 535.3,207.5 537.1,207.2 538.9,206.8 540.7,206.5 542.5,206.1 544.3,205.8 546.1,205.5 547.9,205.2 549.7,205 551.5,204.8 553.3,204.5 555.1,204.3 556.9,204.1 558.6,203.9 560.4,203.7 562.2,203.5 564,203.3 565.8,203.1" stroke="#00ffff" stroke-width="1.0" marker-start="url(#md4)" marker-mid="url(#md4)" marker-end="url(#md4)"/>
<polyline points="323.8,335.1 325.6,335.1 327.4,335.1 329.2,335.1 331,335.1 332.8,335.1 334.6,335.1 336.3,335.1 338.1,335.1 339.9,335.1 341.7,335.1 343.5,335.1 345.3,335.1 347.1,335.1 348.9,335.1 350.7,335.1 352.5,335.1 354.3,335.1 356.1,335.1 357.9,335.1 359.7,335.1 361.4,335.1 363.2,335.1 365,335.1 366.8,335.1 368.6,335.1 370.4,335.1 372.2,335.1 374,335.1 375.8,335.1 377.6,335.1 379.4,335.1 381.2,335.1 383,335.1 384.8,335.1 386.5,335.1 388.3,335.1 390.1,335.1 391.9,335.1 393.7,335.1 395.5,335.1 397.3,335.1 399.1,335.1 400.9,335.1 402.7,335.1 404.5,335.1 406.3,335.1 408.1,335.1 409.9,335 411.6,335 413.4,335 415.2,335 417,335 418.8,335 420.6,335 422.4,335 424.2,335 426,335 427.8,335 429.6,335 431.4,335 433.2,335 434.9,335 436.7,334.9 438.5,334.8 440.3,334.5 442.1,334 443.9,333.3 445.7,332.2 447.5,330.6 449.3,328.5 451.1,326.1 452.9,323.3 454.7,320.2 456.5,316.5 458.3,312.2 460,307.2 461.8,301.9 463.6,296.5 465.4,291.1 467.2,285.7 469,280.6 470.8,275.5 472.6,270.5 474.4,265.4 476.2,260.4 478,255.5 479.8,250.7 481.6,246.2 483.4,242.4 485.1,239.2 486.9,236.4 488.7,233.9 490.5,231.6 492.3,229.5 494.1,227.5 495.9,225.7 497.7,224 499.5,222.5 501.3,221.2 503.1,219.9 504.9,218.7 506.7,217.6 508.5,216.5 510.2,215.6 512,214.7 513.8,213.9 515.6,213.1 517.4,212.5 519.2,211.8 521,211.2 522.8,210.6 524.6,210.1 526.4,209.6 528.2,209.1 530,208.7 531.8,208.3 533.6,207.9 535.3,207.5 537.1,207.1 538.9,206.8 540.7,206.4 542.5,206.1 544.3,205.8 546.1,205.5 547.9,205.2 549.7,205 551.5,204.7 553.3,204.5 555.1,204.3 556.9,204.1 558.6,203.9 560.4,203.7 562.2,203.5 564,203.3 565.8,203.1" stroke="#ff00ff" stroke-width="1.0" marker-start="url(#md5)" marker-mid="url(#md5)" marker-end="url(#md5)"/>
<polyline points="323.8,335.1 325.6,335.1 327.4,335.1 329.2,335.1 331,335.1 332.8,335.1 334.6,335.1 336.3,335.1 338.1,335.1 339.9,335.1 341.7,335.1 343.5,335.1 345.3,335.1 347.1,335.1 348.9,335.1 350.7,335.1 352.5,335.1 354.3,335.1 356.1,335.1 357.9,335.1 359.7,335.1 361.4,335.1 363.2,335.1 365,335.1 366.8,335.1 368.6,335.1 370.4,335.1 372.2,335.1 374,335.1 375.8,335.1 377.6,335.1 379.4,335.1 381.2,335.1 383,335.1 384.8,335.1 386.5,335.1 388.3,335.1 390.1,335.1 391.9,335.1 393.7,335.1 395.5,335.1 397.3,335.1 399.1,335.1 400.9,335.1 402.7,335.1 404.5,335 406.3,335 408.1,335 409.9,335 411.6,335 413.4,335 415.2,335 417,335 418.8,335 420.6,335 422.4,335 424.2,335 426,335 427.8,335 429.6,335 431.4,335 433.2,334.8 434.9,334.6 436.7,334.2 438.5,333.7 440.3,333 442.1,331.9 443.9,330.5 445.7,328.7 447.5,326.5 449.3,324 451.1,321.3 452.9,318.1 454.7,314.2 456.5,309.7 458.3,304.7 460,299.5 461.8,294.2 463.6,289 465.4,283.8 467.2,278.9 469,274 470.8,269.1 472.6,264.3 474.4,259.5 476.2,254.9 478,250.3 479.8,246.1 481.6,242.5 483.4,239.4 485.1,236.6 486.9,234.1 488.7,231.9 490.5,229.8 492.3,227.9 494.1,226.1 495.9,224.4 497.7,222.9 499.5,221.6 501.3,220.3 503.1,219.2 504.9,218.1 506.7,217 508.5,216.1 510.2,215.2 512,214.3 513.8,213.6 515.6,212.9 517.4,212.3 519.2,211.6 521,211.1 522.8,210.5 524.6,210 526.4,209.5 528.2,209 530,208.6 531.8,208.2 533.6,207.8 535.3,207.5 537.1,207.1 538.9,206.7 540.7,206.4 542.5,206.1 544.3,205.8 546.1,205.5 547.9,205.2 549.7,205 551.5,204.7 553.3,204.5 555.1,204.3 556.9,204.1 558.6,203.9 560.4,203.7 562.2,203.5 564,203.3 565.8,203.1" stroke="#ffff00" stroke-width="1.0" marker-start="url(#md6)" marker-mid="url(#md6)" marker-end="url(#md6)"/>
<polyline points="323.8,335.1 325.6,335.1 327.4,335.1 329.2,335.1 331,335.1 332.8,335.1 334.6,335.1 336.3,335.1 338.1,335.1 339.9,335.1 341.7,335.1 343.5,335.1 345.3,335.1 347.1,335.1 348.9,335.1 350.7,335.1 352.5,335.1 354.3,335.1 356.1,335.1 357.9,335.1 359.7,335.1 361.4,335.1 363.2,335.1 365,335.1 366.8,335.1 368.6,335.1 370.4,335.1 372.2,335.1 374,335.1 375.8,335.1 377.6,335.1 379.4,335.1 381.2,335.1 383,335.1 384.8,335.1 386.5,335.1 388.3,335.1 390.1,335.1 391.9,335.1 393.7,335.1 395.5,335.1 397.3,335.1 399.1,335.1 400.9,335 402.7,335 404.5,335 406.3,335 408.1,335 409.9,335 411.6,335 413.4,335 415.2,335 417,335 418.8,335 420.6,335 422.4,335 424.2,335 426,335 427.8,334.9 429.6,334.8 431.4,334.5 433.2,334.2 434.9,333.7 436.7,333.1 438.5,332.2 440.3,331.1 442.1,329.5 443.9,327.6 445.7,325.4 447.5,323 449.3,320.3 451.1,317.1 452.9,313.2 454.7,308.7 456.5,303.8 458.3,298.7 460,293.5 461.8,288.4 463.6,283.4 465.4,278.5 467.2,273.7 469,269 470.8,264.3 472.6,259.8 474.4,255.3 476.2,250.9 478,246.8 479.8,243.2 481.6,240.1 483.4,237.3 485.1,234.8 486.9,232.5 488.7,230.4 490.5,228.5 492.3,226.7 494.1,225.1 495.9,223.6 497.7,222.2 499.5,220.9 501.3,219.8 503.1,218.7 504.9,217.6 506.7,216.6 508.5,215.7 510.2,214.9 512,214.1 513.8,213.4 515.6,212.7 517.4,212.1 519.2,211.5 521,210.9 522.8,210.4 524.6,209.9 526.4,209.4 528.2,209 530,208.6 531.8,208.2 533.6,207.8 535.3,207.4 537.1,207.1 538.9,206.7 540.7,206.4 542.5,206 544.3,205.7 546.1,205.5 547.9,205.2 549.7,204.9 551.5,204.7 553.3,204.5 555.1,204.3 556.9,204.1 558.6,203.8 560.4,203.6 562.2,203.4 564,203.3 565.8,203.1" stroke="#808000" stroke-width="1.0" marker-start="url(#md7)" marker-mid="url(#md7)" marker-end="url(#md7)"/>
<polyline points="323.8,335.1 325.6,335.1 327.4,335.1 329.2,335.1 331,335.1 332.8,335.1 334.6,335.1 336.3,335.1 338.1,335.1 339.9,335.1 341.7,335.1 343.5,335.1 345.3,335.1 347.1,335.1 348.9,335.1 350.7,335.1 352.5,335.1 354.3,335.1 356.1,335.1 357.9,335.1 359.7,335.1 361.4,335.1 363.2,335.1 365,335.1 366.8,335.1 368.6,335.1 370.4,335.1 372.2,335.1 374,335.1 375.8,335.1 377.6,335.1 379.4,335.1 381.2,335.1 383,335.1 384.8,335.1 386.5,335.1 388.3,335.1 390.1,335.1 391.9,335.1 393.7,335.1 395.5,335.1 397.3,335 399.1,335 400.9,335 402.7,335 404.5,335 406.3,335 408.1,335 409.9,335 411.6,335 413.4,335 415.2,335 417,335 418.8,335 420.6,335 422.4,335 424.2,334.9 426,334.7 427.8,334.4 429.6,334.1 431.4,333.7 433.2,333.1 434.9,332.3 436.7,331.3 438.5,330 440.3,328.3 442.1,326.3 443.9,324.2 445.7,321.8 447.5,319.1 449.3,315.8 451.1,311.9 452.9,307.3 454.7,302.4 456.5,297.4 458.3,292.4 460,287.5 461.8,282.6 463.6,277.8 465.4,273.1 467.2,268.5 469,264.1 470.8,259.7 472.6,255.4 474.4,251.2 476.2,247.3 478,243.7 479.8,240.6 481.6,237.8 483.4,235.3 485.1,233 486.9,230.9 488.7,229 490.5,227.3 492.3,225.6 494.1,224.1 495.9,222.7 497.7,221.5 499.5,220.3 501.3,219.2 503.1,218.2 504.9,217.2 506.7,216.3 508.5,215.4 510.2,214.6 512,213.9 513.8,213.2 515.6,212.6 517.4,212 519.2,211.4 521,210.8 522.8,210.3 524.6,209.8 526.4,209.3 528.2,208.9 530,208.5 531.8,208.1 533.6,207.7 535.3,207.4 537.1,207 538.9,206.7 540.7,206.3 542.5,206 544.3,205.7 546.1,205.4 547.9,205.2 549.7,204.9 551.5,204.7 553.3,204.5 555.1,204.3 556.9,204 558.6,203.8 560.4,203.6 562.2,203.4 564,203.3 565.8,203.1" stroke="#000080" stroke-width="1.0" marker-start="url(#md8)" marker-mid="url(#md8)" marker-end="url(#md8)"/>
<polyline points="323.8,335.1 325.6,335.1 327.4,335.1 329.2,335.1 331,335.1 332.8,335.1 334.6,335.1 336.3,335.1 338.1,335.1 339.9,335.1 341.7,335.1 343.5,335.1 345.3,335.1 347.1,335.1 348.9,335.1 350.7,335.1 352.5,335.1 354.3,335.1 356.1,335.1 357.9,335.1 359.7,335.1 361.4,335.1 363.2,335.1 365,335.1 366.8,335.1 368.6,335.1 370.4,335.1 372.2,335.1 374,335.1 375.8,335.1 377.6,335.1 379.4,335.1 381.2,335.1 383,335.1 384.8,335.1 386.5,335.1 388.3,335.1 390.1,335.1 391.9,335 393.7,335 395.5,335 397.3,335 399.1,335 400.9,335 402.7,335 404.5,335 406.3,335 408.1,335 409.9,335 411.6,335 413.4,335 415.2,335 417,335 418.8,334.9 420.6,334.7 422.4,334.5 424.2,334.3 426,333.9 427.8,333.4 429.6,332.9 431.4,332.1 433.2,331.2 434.9,330 436.7,328.4 438.5,326.6 440.3,324.7 442.1,322.6 443.9,320.1 445.7,317.2 447.5,313.7 449.3,309.6 451.1,305 452.9,300.2 454.7,295.3 456.5,290.5 458.3,285.7 460,280.9 461.8,276.3 463.6,271.8 465.4,267.4 467.2,263.1 469,259 470.8,254.9 472.6,250.9 474.4,247.1 476.2,243.8 478,240.7 479.8,238 481.6,235.5 483.4,233.3 485.1,231.2 486.9,229.3 488.7,227.6 490.5,226 492.3,224.5 494.1,223.1 495.9,221.9 497.7,220.7 499.5,219.6 501.3,218.6 503.1,217.6 504.9,216.7 506.7,215.9 508.5,215.1 510.2,214.3 512,213.6 513.8,213 515.6,212.4 517.4,211.8 519.2,211.2 521,210.7 522.8,210.2 524.6,209.7 526.4,209.3 528.2,208.8 530,208.4 531.8,208.1 533.6,207.7 535.3,207.3 537.1,207 538.9,206.6 540.7,206.3 542.5,206 544.3,205.7 546.1,205.4 547.9,205.2 549.7,204.9 551.5,204.7 553.3,204.5 555.1,204.2 556.9,204 558.6,203.8 560.4,203.6 562.2,203.4 564,203.2 565.8,203.1" stroke="#800080" stroke-width="1.0" marker-start="url(#md9)" marker-mid="url(#md9)" marker-end="url(#md9)"/>
</g>
<line x1="323.8" y1="226.5" x2="567.1" y2="203.6" stroke="#000" stroke-width="1.2" stroke-dasharray="7 2.4 1.6 2.4"/>
<line x1="324.8" y1="280.8" x2="567.1" y2="269.3" stroke="#000" stroke-width="1.3" stroke-dasharray="1.4 3.6"/>
<g stroke="#6e6e6e" stroke-width="1.1" fill="none">
<rect x="324.05" y="175.85" width="243.35" height="159.85"/>
<path d="M336.61 335.7v-2.2M336.61 175.85v2.2M362.22 335.7v-1.7M362.22 175.85v1.7M387.83 335.7v-2.2M387.83 175.85v2.2M413.44 335.7v-1.7M413.44 175.85v1.7M439.05 335.7v-2.2M439.05 175.85v2.2M464.66 335.7v-1.7M464.66 175.85v1.7M490.27 335.7v-2.2M490.27 175.85v2.2M515.88 335.7v-1.7M515.88 175.85v1.7M541.49 335.7v-2.2M541.49 175.85v2.2M324.05 316.39h1.7M567.4 316.39h-1.7M324.05 297.41h2.2M567.4 297.41h-2.2M324.05 278.43h1.7M567.4 278.43h-1.7M324.05 259.45h2.2M567.4 259.45h-2.2M324.05 240.47h1.7M567.4 240.47h-1.7M324.05 221.49h2.2M567.4 221.49h-2.2M324.05 202.5h1.7M567.4 202.5h-1.7M324.05 183.52h2.2M567.4 183.52h-2.2"/>
</g>
<g font-size="14" text-anchor="middle">
<text x="336.6" y="347.9">16</text>
<text x="387.8" y="347.9">18</text>
<text x="439" y="347.9">20</text>
<text x="490.3" y="347.9">22</text>
<text x="541.5" y="347.9">24</text>
</g>
<g font-size="14" text-anchor="end">
<text x="321.5" y="339.8">0</text>
<text x="321.5" y="301.8">0.05</text>
<text x="321.5" y="263.8">0.10</text>
<text x="321.5" y="225.9">0.15</text>
<text x="321.5" y="187.9">0.20</text>
</g>
<path d="M486.2 315.5L422.2 315.5" stroke="#000" stroke-width="2.2" fill="none"/>
<path d="M419.2 315.5l6.5 -2.4v4.8z" fill="#000"/>
<text x="329.9" y="194.3" font-size="15.5" letter-spacing="0.5">(d)</text>
<text x="412.8" y="195.7" font-size="18">FeSe</text>
<text x="448.3" y="202.7" font-size="10.2">0.7</text>
<text x="461.7" y="195.7" font-size="18">Te</text>
<text x="480" y="202.7" font-size="10.2">0.3</text>
<text x="507" y="195.7" font-size="18" font-style="italic">B</text>
<text x="521.8" y="195.7" font-size="18" letter-spacing="1.4">//</text>
<text x="536.2" y="195.7" font-size="18" font-style="italic">ab</text>
<text x="332.1" y="216.6" font-size="14.5" font-style="italic">ρ</text>
<text x="340" y="222.3" font-size="10">n</text>
<text x="326.5" y="272.8" font-size="14.5" font-style="italic">ρ</text>
<text x="334.4" y="278.5" font-size="10">n</text>
<text x="342.8" y="272.8" font-size="16">×</text>
<text x="355.2" y="272.8" font-size="16">0.5</text>
<text x="418" y="320.8" font-size="14.8" text-anchor="end">9 T</text>
<text x="488.1" y="320.8" font-size="14.8">0 T</text>
</g>
<g id="panel_e">
<clipPath id="clip_e"><rect x="601.2" y="0.5" width="243.5" height="161.2"/></clipPath>
<g clip-path="url(#clip_e)" fill="none" stroke-linejoin="round">
<polyline points="602.1,160 605.5,160 608.9,160 612.3,160 615.7,160 619.1,160 622.5,160 625.9,160 629.3,160 632.7,160 636.1,160 639.5,160 642.9,160 646.3,160 649.7,160 653.1,160 656.5,160 659.9,160 663.3,160 666.7,160 670.1,160 673.5,160 676.9,160 680.3,160 683.7,160 687.1,160 690.5,160 693.9,160 697.3,160 700.7,160 704.1,160 707.5,160 710.2,159.1 713.5,147.8 720.7,99.7 724.1,89.3 727.5,80.7 730.9,73.4 734.3,67.2 737.7,62.3 741.1,58.9 744.5,56.3 747.9,53.7 751.3,51.2 754.7,49 758.1,47 761.5,45.2 764.9,43.5 768.3,41.8 771.7,40.2 775.1,38.8 778.5,37.7 781.9,36.8 785.3,36.1 788.7,35.4 792.1,34.9 795.5,34.3 798.9,33.9 802.3,33.4 805.7,33 809.1,32.6 812.5,32.1 815.9,31.7 819.3,31.2 822.7,30.8 826.1,30.4 829.5,30 832.9,29.7 836.3,29.3 839.7,29 843.1,28.6 846.5,28.3" stroke="#000000" stroke-width="0.9" marker-start="url(#me0)" marker-mid="url(#me0)" marker-end="url(#me0)"/>
<polyline points="603.1,160 606.5,160 609.9,160 613.3,160 616.7,160 620.1,160 623.5,160 626.9,160 630.3,160 633.7,160 637.1,160 640.5,160 643.9,160 647.3,160 650.7,160 654.1,160 657.5,160 660.9,160 664.3,160 667.7,160 671.1,160 674.5,160 677.9,160 681.3,160 684.7,160 688.1,160 691.5,160 694.8,159.9 698.2,159.5 701.6,155.5 705,148 708.4,138.4 711.8,126.2 715.2,114.3 718.6,103.3 722,92.7 725.4,83.5 728.8,75.8 732.2,69.3 735.6,63.9 739,60 742.4,57.1 745.8,54.5 749.2,52.1 752.6,49.8 756,47.7 759.4,45.8 762.8,44 766.2,42.4 769.6,40.8 773,39.3 776.4,38 779.8,37.1 783.2,36.4 786.6,35.8 790,35.2 793.4,34.6 796.8,34.1 800.2,33.6 803.6,33.1 807,32.7 810.4,32.3 813.8,31.8 817.2,31.4 820.6,31 824,30.6 827.4,30.2 830.8,29.9 834.2,29.5 837.6,29.1 841,28.8 844.4,28.5" stroke="#ff0000" stroke-width="0.9" marker-start="url(#me1)" marker-mid="url(#me1)" marker-end="url(#me1)"/>
<polyline points="604,160 607.4,160 610.8,160 614.2,160 617.6,160 621,160 624.4,160 627.8,160 631.2,160 634.6,160 638,160 641.4,160 644.8,160 648.2,160 651.6,160 655,160 658.4,160 661.8,160 665.2,160 668.6,160 672,160 675.4,160 678.8,160 682.2,160 685.6,160 689,159.9 692.4,159.3 695.8,156.1 699.2,149.8 702.6,141.6 706,131.1 709.4,119.9 712.8,109.3 716.2,98.9 719.6,89.2 723,80.9 726.4,73.9 729.8,68 733.2,63.1 736.6,59.6 740,56.9 743.4,54.3 746.8,51.9 750.2,49.7 753.6,47.7 757,45.8 760.4,44.2 763.8,42.6 767.2,41 770.6,39.6 774,38.4 777.4,37.4 780.8,36.7 784.2,36.1 787.6,35.5 791,34.9 794.4,34.4 797.8,33.9 801.2,33.4 804.6,33 808,32.5 811.4,32.1 814.8,31.7 818.2,31.3 821.6,30.9 825,30.5 828.4,30.1 831.8,29.7 835.2,29.4 838.6,29 842,28.7 845.4,28.4" stroke="#00ff00" stroke-width="0.9" marker-start="url(#me2)" marker-mid="url(#me2)" marker-end="url(#me2)"/>
<polyline points="602.4,160 605.8,160 609.2,160 612.6,160 616,160 619.4,160 622.8,160 626.2,160 629.6,160 633,160 636.4,160 639.8,160 643.2,160 646.6,160 650,160 653.4,160 656.8,160 660.2,160 663.6,160 667,160 670.4,160 673.8,160 677.2,160 680.6,160 684,159.9 687.4,159.5 690.8,157.5 694.2,152.7 697.6,145.7 701,136.8 704.4,126.5 707.8,116.1 711.2,106 714.6,96 718,86.9 721.4,79.2 724.8,72.6 728.2,67.1 731.6,62.6 735,59.3 738.4,56.6 741.8,54.1 745.2,51.8 748.6,49.6 752,47.6 755.4,45.9 758.8,44.2 762.2,42.7 765.6,41.2 769,39.8 772.4,38.6 775.8,37.7 779.2,36.9 782.6,36.3 786,35.7 789.4,35.1 792.8,34.6 796.2,34.1 799.6,33.6 803,33.2 806.4,32.7 809.8,32.3 813.2,31.9 816.6,31.5 820,31.1 823.4,30.7 826.8,30.3 830.2,29.9 833.6,29.5 837,29.2 840.4,28.8 843.8,28.5" stroke="#0000ff" stroke-width="0.9" marker-start="url(#me3)" marker-mid="url(#me3)" marker-end="url(#me3)"/>
<polyline points="603.4,160 606.8,160 610.2,160 613.6,160 617,160 620.4,160 623.8,160 627.2,160 630.6,160 634,160 637.4,160 640.8,160 644.2,160 647.6,160 651,160 654.4,160 657.8,160 661.2,160 664.6,160 668,160 671.4,160 674.8,160 678.2,160 681.6,159.8 685,158.8 688.4,155.9 691.8,150.7 695.2,143.4 698.6,134.6 702,124.8 705.4,114.9 708.8,105.2 712.2,95.5 715.6,86.7 719,79.2 722.4,72.9 725.8,67.5 729.2,63 732.6,59.7 736,57 739.4,54.5 742.8,52.2 746.2,50 749.6,48.1 753,46.3 756.4,44.7 759.8,43.1 763.2,41.6 766.6,40.3 770,39.1 773.4,38.1 776.8,37.3 780.2,36.6 783.6,36 787,35.4 790.4,34.9 793.8,34.4 797.1,33.9 800.5,33.4 803.9,33 807.3,32.6 810.7,32.1 814.1,31.7 817.5,31.3 820.9,30.9 824.3,30.6 827.7,30.2 831.1,29.8 834.5,29.4 837.9,29.1 841.3,28.7 844.7,28.4" stroke="#00ffff" stroke-width="0.9" marker-start="url(#me4)" marker-mid="url(#me4)" marker-end="url(#me4)"/>
<polyline points="604.4,160 607.8,160 611.2,160 614.6,160 618,160 621.4,160 624.8,160 628.2,160 631.6,160 635,160 638.4,160 641.8,160 645.2,160 648.6,160 652,160 655.4,160 658.8,160 662.2,160 665.6,160 669,160 672.4,160 675.7,159.9 679.1,159.4 682.5,157.8 685.9,154.3 689.3,148.7 692.7,141.3 696.1,132.7 699.5,123.3 702.9,113.9 706.3,104.5 709.7,95.1 713.1,86.6 716.5,79.3 719.9,73.1 723.3,67.9 726.7,63.5 730.1,60.1 733.5,57.4 736.9,54.9 740.3,52.6 743.7,50.4 747.1,48.5 750.5,46.7 753.9,45.1 757.3,43.6 760.7,42.1 764.1,40.7 767.5,39.5 770.9,38.5 774.3,37.7 777.7,37 781.1,36.4 784.5,35.8 787.9,35.2 791.3,34.7 794.7,34.2 798.1,33.7 801.5,33.3 804.9,32.8 808.3,32.4 811.7,32 815.1,31.6 818.5,31.2 821.9,30.8 825.3,30.4 828.7,30 832.1,29.7 835.5,29.3 838.9,28.9 842.3,28.6 845.7,28.3" stroke="#ff00ff" stroke-width="0.9" marker-start="url(#me5)" marker-mid="url(#me5)" marker-end="url(#me5)"/>
<polyline points="602.7,160 606.1,160 609.5,160 612.9,160 616.3,160 619.7,160 623.1,160 626.5,160 629.9,160 633.3,160 636.7,160 640.1,160 643.5,160 646.9,160 650.3,160 653.7,160 657.1,160 660.5,160 663.9,160 667.3,160 670.7,159.7 674.1,159 677.5,157.3 680.9,154 684.3,148.7 687.7,141.8 691.1,133.9 694.5,125.3 697.9,116.5 701.3,107.6 704.7,98.5 708.1,89.9 711.5,82.4 714.9,76 718.3,70.5 721.7,65.9 725.1,62.1 728.5,59.1 731.9,56.5 735.3,54.1 738.7,51.9 742.1,49.9 745.5,48.1 748.9,46.4 752.3,44.8 755.7,43.4 759.1,42 762.5,40.7 765.9,39.6 769.3,38.7 772.7,37.8 776.1,37.1 779.5,36.5 782.9,35.9 786.3,35.4 789.7,34.9 793.1,34.4 796.5,33.9 799.9,33.5 803.3,33 806.7,32.6 810.1,32.2 813.5,31.8 816.9,31.4 820.3,31 823.7,30.6 827.1,30.2 830.5,29.8 833.9,29.5 837.3,29.1 840.7,28.8 844.1,28.4" stroke="#ffff00" stroke-width="0.9" marker-start="url(#me6)" marker-mid="url(#me6)" marker-end="url(#me6)"/>
<polyline points="603.7,160 607.1,160 610.5,160 613.9,160 617.3,160 620.7,160 624.1,160 627.5,160 630.9,160 634.3,160 637.7,160 641.1,160 644.5,160 647.9,160 651.3,160 654.7,160 658.1,160 661.5,159.9 664.9,159.6 668.3,158.8 671.7,157.1 675.1,154.2 678.5,149.4 681.9,143.1 685.3,135.8 688.7,128.1 692.1,120 695.5,111.7 698.9,103 702.3,94.3 705.7,86.5 709.1,79.8 712.5,74 715.9,69.1 719.3,64.9 722.7,61.5 726.1,58.6 729.5,56.1 732.9,53.8 736.3,51.7 739.7,49.8 743.1,48 746.5,46.4 749.9,44.9 753.3,43.5 756.7,42.1 760.1,40.9 763.5,39.9 766.9,39 770.3,38.2 773.7,37.5 777.1,36.8 780.5,36.2 783.9,35.7 787.3,35.2 790.7,34.7 794.1,34.2 797.5,33.7 800.9,33.3 804.3,32.9 807.7,32.4 811.1,32 814.5,31.6 817.9,31.2 821.3,30.9 824.7,30.5 828.1,30.1 831.5,29.7 834.9,29.3 838.3,29 841.7,28.7 845.1,28.3" stroke="#808000" stroke-width="0.9" marker-start="url(#me7)" marker-mid="url(#me7)" marker-end="url(#me7)"/>
<polyline points="604.7,160 608.1,160 611.5,160 614.9,160 618.3,160 621.7,160 625.1,160 628.5,160 631.9,160 635.3,160 638.7,160 642.1,160 645.5,160 648.9,160 652.3,160 655.7,159.8 659.1,159.3 662.5,158.4 665.9,156.7 669.3,154 672.7,149.5 676.1,143.6 679.5,136.9 682.9,129.9 686.3,122.4 689.7,114.6 693.1,106.5 696.5,98.1 699.9,90.2 703.3,83.2 706.7,77.2 710.1,72.1 713.5,67.7 716.9,63.9 720.3,60.7 723.7,58 727.1,55.7 730.5,53.5 733.9,51.4 737.3,49.6 740.7,47.9 744.1,46.4 747.5,44.9 750.9,43.6 754.3,42.3 757.7,41.1 761.1,40.1 764.5,39.2 767.9,38.5 771.3,37.8 774.6,37.1 778,36.5 781.4,36 784.8,35.5 788.2,35 791.6,34.5 795,34 798.4,33.6 801.8,33.1 805.2,32.7 808.6,32.3 812,31.9 815.4,31.5 818.8,31.1 822.2,30.7 825.6,30.3 829,30 832.4,29.6 835.8,29.2 839.2,28.9 842.6,28.5 846,28.2" stroke="#000080" stroke-width="0.9" marker-start="url(#me8)" marker-mid="url(#me8)" marker-end="url(#me8)"/>
<polyline points="602.1,160 605.5,160 608.9,160 612.3,160 615.7,160 619.1,160 622.5,160 625.9,160 629.3,160 632.7,160 636.1,160 639.5,160 642.9,160 646.3,159.9 649.7,159.6 653.1,159.1 656.5,158.1 659.9,156.5 663.3,153.9 666.7,149.8 670.1,144.2 673.5,138 676.9,131.6 680.3,124.8 683.7,117.6 687.1,110 690.5,102 693.9,94.1 697.3,86.9 700.7,80.6 704.1,75.2 707.5,70.6 710.9,66.6 714.3,63.1 717.7,60.2 721.1,57.6 724.5,55.3 727.9,53.2 731.3,51.3 734.7,49.5 738.1,47.9 741.5,46.4 744.9,45 748.3,43.7 751.7,42.5 755.1,41.3 758.5,40.4 761.9,39.5 765.3,38.8 768.7,38.1 772.1,37.4 775.5,36.8 778.9,36.3 782.3,35.8 785.7,35.3 789.1,34.8 792.5,34.3 795.9,33.9 799.3,33.4 802.7,33 806.1,32.6 809.5,32.2 812.9,31.8 816.2,31.4 819.6,31 823,30.6 826.4,30.2 829.8,29.9 833.2,29.5 836.6,29.1 840,28.8 843.4,28.4" stroke="#800080" stroke-width="0.9" marker-start="url(#me9)" marker-mid="url(#me9)" marker-end="url(#me9)"/>
</g>
<line x1="602.1" y1="52.1" x2="844.9" y2="29.1" stroke="#000" stroke-width="1.2" stroke-dasharray="7 2.4 1.6 2.4"/>
<line x1="603.1" y1="106.1" x2="844.9" y2="94.5" stroke="#000" stroke-width="1.3" stroke-dasharray="1.4 3.6"/>
<g stroke="#6e6e6e" stroke-width="1.1" fill="none">
<rect x="601.8" y="0.5" width="242.4" height="159.75"/>
<path d="M618.29 160.25v-2.2M618.29 0.5v2.2M650.66 160.25v-1.7M650.66 0.5v1.7M683.03 160.25v-2.2M683.03 0.5v2.2M715.41 160.25v-1.7M715.41 0.5v1.7M747.78 160.25v-2.2M747.78 0.5v2.2M780.15 160.25v-1.7M780.15 0.5v1.7M812.53 160.25v-2.2M812.53 0.5v2.2M601.8 145.63h1.7M844.2 145.63h-1.7M601.8 131.13h2.2M844.2 131.13h-2.2M601.8 116.63h1.7M844.2 116.63h-1.7M601.8 102.13h2.2M844.2 102.13h-2.2M601.8 87.63h1.7M844.2 87.63h-1.7M601.8 73.13h2.2M844.2 73.13h-2.2M601.8 58.63h1.7M844.2 58.63h-1.7M601.8 44.13h2.2M844.2 44.13h-2.2M601.8 29.63h1.7M844.2 29.63h-1.7M601.8 15.13h2.2M844.2 15.13h-2.2M601.8 0.63h1.7M844.2 0.63h-1.7"/>
</g>
<g font-size="14" text-anchor="middle">
<text x="618.3" y="172.9">10</text>
<text x="683" y="172.9">12</text>
<text x="747.8" y="172.9">14</text>
<text x="812.5" y="172.9">16</text>
</g>
<g font-size="14" text-anchor="end">
<text x="599.8" y="164.7">0</text>
<text x="599.8" y="135.7">0.05</text>
<text x="599.8" y="106.7">0.10</text>
<text x="599.8" y="77.7">0.15</text>
<text x="599.8" y="48.7">0.20</text>
<text x="599.8" y="19.7">0.25</text>
</g>
<path d="M736.5 122.2L668.4 122.2" stroke="#000" stroke-width="2.2" fill="none"/>
<path d="M665.4 122.2l6.5 -2.4v4.8z" fill="#000"/>
<text x="607.7" y="18.5" font-size="15.5" letter-spacing="0.5">(e)</text>
<text x="706.2" y="19.8" font-size="18">FeSe</text>
<text x="741.7" y="26.8" font-size="10.2">0.3</text>
<text x="755.1" y="19.8" font-size="18">Te</text>
<text x="773.4" y="26.8" font-size="10.2">0.7</text>
<text x="800.4" y="19.8" font-size="18" font-style="italic">B</text>
<text x="815.2" y="19.8" font-size="18" letter-spacing="1.4">//</text>
<text x="829.6" y="19.8" font-size="18" font-style="italic">c</text>
<text x="607.8" y="41.5" font-size="14.5" font-style="italic">ρ</text>
<text x="615.7" y="47.2" font-size="10">n</text>
<text x="605.1" y="96.5" font-size="14.5" font-style="italic">ρ</text>
<text x="613" y="102.2" font-size="10">n</text>
<text x="621.4" y="96.5" font-size="16">×</text>
<text x="633.8" y="96.5" font-size="16">0.5</text>
<text x="663.2" y="127.2" font-size="14.8" text-anchor="end">9 T</text>
<text x="740.6" y="127.2" font-size="14.8">0 T</text>
</g>
<g id="panel_f">
<clipPath id="clip_f"><rect x="601.2" y="175.85" width="243.5" height="160.9"/></clipPath>
<g clip-path="url(#clip_f)" fill="none" stroke-linejoin="round">
<polyline points="602.1,335.1 605.5,335.1 608.9,335.1 612.3,335.1 615.7,335.1 619.1,335.1 622.5,335.1 625.9,335.1 629.3,335.1 632.7,335.1 636.1,335.1 639.5,335.1 642.9,335.1 646.3,335.1 649.7,335.1 653.1,335.1 656.5,335.1 659.9,335.1 663.3,335.1 666.7,335.1 670.1,335.1 673.5,335.1 676.9,335.1 680.3,335.1 683.7,335.1 687.1,335.1 690.5,335.1 693.9,335.1 697.3,335.1 700.7,335.1 704.1,335.1 710.2,334.2 712.5,328.5 714.8,306.5 718,296.7 721.4,279.4 724.8,262.5 728.2,251.5 731.6,242.7 735,236 738.4,230.7 741.8,226.6 745.2,223.1 748.6,220.2 752,217.6 755.4,215.2 758.8,213.4 762.2,212.1 765.6,211 769,210 772.4,209 775.8,208.1 779.2,207.4 782.6,206.8 786,206.2 789.4,205.7 792.8,205.2 796.2,204.7 799.6,204.3 803,203.9 806.4,203.5 809.8,203.2 813.2,202.8 816.6,202.4 820,202 823.4,201.7 826.8,201.3 830.2,201 833.6,200.7 837,200.4 840.4,200.1 843.8,199.8" stroke="#000000" stroke-width="0.9" marker-start="url(#mf0)" marker-mid="url(#mf0)" marker-end="url(#mf0)"/>
<polyline points="603.1,335.1 606.5,335.1 609.9,335.1 613.3,335.1 616.7,335.1 620.1,335.1 623.5,335.1 626.9,335.1 630.3,335.1 633.7,335.1 637.1,335.1 640.5,335.1 643.9,335.1 647.3,335.1 650.7,335.1 654.1,335.1 657.5,335.1 660.9,335.1 664.3,335 667.7,335 671.1,335 674.5,335 677.9,335 681.3,335 684.7,335 688.1,335 691.5,335 694.8,335 698.2,334.9 701.6,334.1 705,331.4 708.4,325.8 711.8,317.1 715.2,305.3 718.6,289.9 722,272.6 725.4,258.2 728.8,248.1 732.2,240 735.6,233.9 739,229.1 742.4,225.2 745.8,222 749.2,219.2 752.6,216.7 756,214.5 759.4,212.9 762.8,211.7 766.2,210.6 769.6,209.6 773,208.7 776.4,207.9 779.8,207.2 783.2,206.7 786.6,206.2 790,205.6 793.4,205.1 796.8,204.7 800.2,204.2 803.6,203.8 807,203.4 810.4,203.1 813.8,202.8 817.2,202.4 820.6,202.1 824,201.8 827.4,201.5 830.8,201.2 834.2,200.9 837.6,200.6 841,200.3 844.4,200" stroke="#ff0000" stroke-width="0.9" marker-start="url(#mf1)" marker-mid="url(#mf1)" marker-end="url(#mf1)"/>
<polyline points="604,335.1 607.4,335.1 610.8,335.1 614.2,335.1 617.6,335.1 621,335.1 624.4,335.1 627.8,335.1 631.2,335.1 634.6,335.1 638,335.1 641.4,335.1 644.8,335.1 648.2,335.1 651.6,335.1 655,335.1 658.4,335.1 661.8,335.1 665.2,335 668.6,335 672,335 675.4,335 678.8,335 682.2,335 685.6,335 689,335 692.4,335 695.8,334.9 699.2,334.4 702.6,332.4 706,327.7 709.4,320.1 712.8,309.5 716.2,295.8 719.6,279.6 723,263.9 726.4,252.5 729.8,243.6 733.2,236.7 736.6,231.4 740,227.1 743.4,223.6 746.8,220.6 750.2,218 753.6,215.6 757,213.7 760.4,212.3 763.8,211.2 767.2,210.2 770.6,209.3 774,208.4 777.4,207.6 780.8,207 784.2,206.5 787.6,206 791,205.5 794.4,205 797.8,204.5 801.2,204.1 804.6,203.7 808,203.3 811.4,203 814.8,202.7 818.2,202.3 821.6,202 825,201.7 828.4,201.4 831.8,201.1 835.2,200.8 838.6,200.5 842,200.2 845.4,199.9" stroke="#00ff00" stroke-width="0.9" marker-start="url(#mf2)" marker-mid="url(#mf2)" marker-end="url(#mf2)"/>
<polyline points="602.4,335.1 605.8,335.1 609.2,335.1 612.6,335.1 616,335.1 619.4,335.1 622.8,335.1 626.2,335.1 629.6,335.1 633,335.1 636.4,335.1 639.8,335.1 643.2,335.1 646.6,335.1 650,335.1 653.4,335.1 656.8,335.1 660.2,335.1 663.6,335 667,335 670.4,335 673.8,335 677.2,335 680.6,335 684,335 687.4,335 690.8,335 694.2,334.9 697.6,334.4 701,332.5 704.4,328 707.8,320.7 711.2,310.7 714.6,297.7 718,282.3 721.4,266.8 724.8,254.8 728.2,245.6 731.6,238.3 735,232.7 738.4,228.2 741.8,224.5 745.2,221.4 748.6,218.7 752,216.3 755.4,214.2 758.8,212.7 762.2,211.5 765.6,210.5 769,209.6 772.4,208.7 775.8,207.9 779.2,207.2 782.6,206.7 786,206.2 789.4,205.6 792.8,205.2 796.2,204.7 799.6,204.3 803,203.8 806.4,203.5 809.8,203.1 813.2,202.8 816.6,202.5 820,202.2 823.4,201.9 826.8,201.6 830.2,201.2 833.6,200.9 837,200.6 840.4,200.3 843.8,200" stroke="#0000ff" stroke-width="0.9" marker-start="url(#mf3)" marker-mid="url(#mf3)" marker-end="url(#mf3)"/>
<polyline points="603.4,335.1 606.8,335.1 610.2,335.1 613.6,335.1 617,335.1 620.4,335.1 623.8,335.1 627.2,335.1 630.6,335.1 634,335.1 637.4,335.1 640.8,335.1 644.2,335.1 647.6,335.1 651,335.1 654.4,335.1 657.8,335 661.2,335 664.6,335 668,335 671.4,335 674.8,335 678.2,335 681.6,335 685,335 688.4,335 691.8,334.9 695.2,334.4 698.6,332.6 702,328.4 705.4,321.5 708.8,312.2 712.2,300.2 715.6,285.9 719,271 722.4,258.3 725.8,248.6 729.2,240.7 732.6,234.7 736,229.9 739.4,226 742.8,222.7 746.2,219.8 749.6,217.3 753,215.1 756.4,213.4 759.8,212.1 763.2,211 766.6,210 770,209.2 773.4,208.3 776.8,207.6 780.2,207 783.6,206.5 787,205.9 790.4,205.5 793.8,205 797.1,204.5 800.5,204.1 803.9,203.7 807.3,203.3 810.7,203 814.1,202.7 817.5,202.4 820.9,202.1 824.3,201.8 827.7,201.4 831.1,201.1 834.5,200.8 837.9,200.5 841.3,200.2 844.7,199.9" stroke="#00ffff" stroke-width="0.9" marker-start="url(#mf4)" marker-mid="url(#mf4)" marker-end="url(#mf4)"/>
<polyline points="604.4,335.1 607.8,335.1 611.2,335.1 614.6,335.1 618,335.1 621.4,335.1 624.8,335.1 628.2,335.1 631.6,335.1 635,335.1 638.4,335.1 641.8,335.1 645.2,335.1 648.6,335.1 652,335.1 655.4,335 658.8,335 662.2,335 665.6,335 669,335 672.4,335 675.7,335 679.1,335 682.5,335 685.9,335 689.3,334.9 692.7,334.3 696.1,332.3 699.5,328.2 702.9,321.5 706.3,312.6 709.7,301.2 713.1,287.9 716.5,274 719.9,261.3 723.3,251.2 726.7,243 730.1,236.5 733.5,231.4 736.9,227.3 740.3,223.8 743.7,220.8 747.1,218.2 750.5,215.9 753.9,214 757.3,212.6 760.7,211.5 764.1,210.5 767.5,209.6 770.9,208.8 774.3,208 777.7,207.3 781.1,206.8 784.5,206.2 787.9,205.7 791.3,205.3 794.7,204.8 798.1,204.4 801.5,204 804.9,203.6 808.3,203.2 811.7,202.9 815.1,202.6 818.5,202.3 821.9,202 825.3,201.7 828.7,201.3 832.1,201 835.5,200.7 838.9,200.4 842.3,200.1 845.7,199.8" stroke="#ff00ff" stroke-width="0.9" marker-start="url(#mf5)" marker-mid="url(#mf5)" marker-end="url(#mf5)"/>
<polyline points="602.7,335.1 606.1,335.1 609.5,335.1 612.9,335.1 616.3,335.1 619.7,335.1 623.1,335.1 626.5,335.1 629.9,335.1 633.3,335.1 636.7,335.1 640.1,335.1 643.5,335.1 646.9,335.1 650.3,335.1 653.7,335 657.1,335 660.5,335 663.9,335 667.3,335 670.7,335 674.1,335 677.5,335 680.9,335 684.3,335 687.7,334.6 691.1,333.4 694.5,330.5 697.9,325.4 701.3,318 704.7,308.6 708.1,297.1 711.5,284.5 714.9,271.7 718.3,260.2 721.7,250.6 725.1,242.6 728.5,236.4 731.9,231.4 735.3,227.4 738.7,223.9 742.1,221 745.5,218.4 748.9,216.1 752.3,214.2 755.7,212.8 759.1,211.6 762.5,210.7 765.9,209.8 769.3,208.9 772.7,208.2 776.1,207.5 779.5,206.9 782.9,206.4 786.3,205.9 789.7,205.4 793.1,205 796.5,204.5 799.9,204.1 803.3,203.7 806.7,203.4 810.1,203 813.5,202.7 816.9,202.4 820.3,202.1 823.7,201.8 827.1,201.5 830.5,201.2 833.9,200.9 837.3,200.6 840.7,200.2 844.1,199.9" stroke="#ffff00" stroke-width="0.9" marker-start="url(#mf6)" marker-mid="url(#mf6)" marker-end="url(#mf6)"/>
<polyline points="603.7,335.1 607.1,335.1 610.5,335.1 613.9,335.1 617.3,335.1 620.7,335.1 624.1,335.1 627.5,335.1 630.9,335.1 634.3,335.1 637.7,335.1 641.1,335.1 644.5,335.1 647.9,335 651.3,335 654.7,335 658.1,335 661.5,335 664.9,335 668.3,335 671.7,335 675.1,335 678.5,335 681.9,334.7 685.3,333.9 688.7,331.9 692.1,327.9 695.5,321.8 698.9,314.1 702.3,304.4 705.7,293.3 709.1,281.6 712.5,270.2 715.9,259.7 719.3,250.5 722.7,242.8 726.1,236.7 729.5,231.8 732.9,227.8 736.3,224.4 739.7,221.3 743.1,218.7 746.5,216.5 749.9,214.6 753.3,213.1 756.7,212 760.1,211 763.5,210.1 766.9,209.3 770.3,208.5 773.7,207.8 777.1,207.2 780.5,206.6 783.9,206.1 787.3,205.7 790.7,205.2 794.1,204.8 797.5,204.4 800.9,204 804.3,203.6 807.7,203.2 811.1,202.9 814.5,202.6 817.9,202.3 821.3,202 824.7,201.7 828.1,201.4 831.5,201.1 834.9,200.8 838.3,200.4 841.7,200.1 845.1,199.8" stroke="#808000" stroke-width="0.9" marker-start="url(#mf7)" marker-mid="url(#mf7)" marker-end="url(#mf7)"/>
<polyline points="604.7,335.1 608.1,335.1 611.5,335.1 614.9,335.1 618.3,335.1 621.7,335.1 625.1,335.1 628.5,335.1 631.9,335.1 635.3,335.1 638.7,335.1 642.1,335 645.5,335 648.9,335 652.3,335 655.7,335 659.1,335 662.5,335 665.9,335 669.3,335 672.7,335 676.1,334.8 679.5,334.3 682.9,332.8 686.3,329.7 689.7,324.8 693.1,318.3 696.5,310.2 699.9,300.4 703.3,289.9 706.7,279.2 710.1,268.9 713.5,259.2 716.9,250.4 720.3,242.9 723.7,236.9 727.1,232.2 730.5,228.2 733.9,224.8 737.3,221.7 740.7,219.1 744.1,216.9 747.5,215 750.9,213.5 754.3,212.3 757.7,211.3 761.1,210.4 764.5,209.6 767.9,208.8 771.3,208.1 774.6,207.5 778,206.9 781.4,206.4 784.8,205.9 788.2,205.5 791.6,205.1 795,204.6 798.4,204.2 801.8,203.8 805.2,203.5 808.6,203.1 812,202.8 815.4,202.5 818.8,202.2 822.2,201.9 825.6,201.6 829,201.3 832.4,201 835.8,200.6 839.2,200.3 842.6,200 846,199.7" stroke="#000080" stroke-width="0.9" marker-start="url(#mf8)" marker-mid="url(#mf8)" marker-end="url(#mf8)"/>
<polyline points="602.1,335.1 605.5,335.1 608.9,335.1 612.3,335.1 615.7,335.1 619.1,335.1 622.5,335.1 625.9,335.1 629.3,335.1 632.7,335.1 636.1,335.1 639.5,335 642.9,335 646.3,335 649.7,335 653.1,335 656.5,335 659.9,335 663.3,335 666.7,335 670.1,335 673.5,334.8 676.9,334.1 680.3,332.5 683.7,329.3 687.1,324.4 690.5,318 693.9,310.2 697.3,300.8 700.7,290.8 704.1,280.7 707.5,270.9 710.9,261.5 714.3,252.6 717.7,244.9 721.1,238.7 724.5,233.7 727.9,229.6 731.3,226 734.7,222.8 738.1,220.1 741.5,217.7 744.9,215.7 748.3,214.1 751.7,212.8 755.1,211.7 758.5,210.8 761.9,210 765.3,209.2 768.7,208.5 772.1,207.8 775.5,207.2 778.9,206.7 782.3,206.2 785.7,205.8 789.1,205.3 792.5,204.9 795.9,204.5 799.3,204.1 802.7,203.7 806.1,203.4 809.5,203 812.9,202.7 816.2,202.4 819.6,202.1 823,201.8 826.4,201.5 829.8,201.2 833.2,200.9 836.6,200.6 840,200.2 843.4,199.9" stroke="#800080" stroke-width="0.9" marker-start="url(#mf9)" marker-mid="url(#mf9)" marker-end="url(#mf9)"/>
</g>
<line x1="602.1" y1="223.3" x2="844.9" y2="201.7" stroke="#000" stroke-width="1.2" stroke-dasharray="7 2.4 1.6 2.4"/>
<line x1="603.1" y1="279.2" x2="844.9" y2="268.4" stroke="#000" stroke-width="1.3" stroke-dasharray="1.4 3.6"/>
<g stroke="#6e6e6e" stroke-width="1.1" fill="none">
<rect x="601.8" y="175.85" width="242.4" height="159.85"/>
<path d="M618.29 335.7v-2.2M618.29 175.85v2.2M650.66 335.7v-1.7M650.66 175.85v1.7M683.03 335.7v-2.2M683.03 175.85v2.2M715.41 335.7v-1.7M715.41 175.85v1.7M747.78 335.7v-2.2M747.78 175.85v2.2M780.15 335.7v-1.7M780.15 175.85v1.7M812.53 335.7v-2.2M812.53 175.85v2.2M601.8 320.88h1.7M844.2 320.88h-1.7M601.8 306.38h2.2M844.2 306.38h-2.2M601.8 291.88h1.7M844.2 291.88h-1.7M601.8 277.38h2.2M844.2 277.38h-2.2M601.8 262.88h1.7M844.2 262.88h-1.7M601.8 248.38h2.2M844.2 248.38h-2.2M601.8 233.88h1.7M844.2 233.88h-1.7M601.8 219.38h2.2M844.2 219.38h-2.2M601.8 204.88h1.7M844.2 204.88h-1.7M601.8 190.38h2.2M844.2 190.38h-2.2M601.8 175.88h1.7M844.2 175.88h-1.7"/>
</g>
<g font-size="14" text-anchor="middle">
<text x="618.3" y="347.9">10</text>
<text x="683" y="347.9">12</text>
<text x="747.8" y="347.9">14</text>
<text x="812.5" y="347.9">16</text>
</g>
<g font-size="14" text-anchor="end">
<text x="599.8" y="339.8">0</text>
<text x="599.8" y="310.8">0.05</text>
<text x="599.8" y="281.8">0.10</text>
<text x="599.8" y="252.8">0.15</text>
<text x="599.8" y="223.8">0.20</text>
<text x="599.8" y="194.8">0.25</text>
</g>
<path d="M733.8 312L684 312" stroke="#000" stroke-width="2.2" fill="none"/>
<path d="M681 312l6.5 -2.4v4.8z" fill="#000"/>
<text x="607.7" y="194.6" font-size="15.5" letter-spacing="0.5">(f)</text>
<text x="696.7" y="193.6" font-size="18">FeSe</text>
<text x="732.2" y="200.6" font-size="10.2">0.3</text>
<text x="745.6" y="193.6" font-size="18">Te</text>
<text x="763.9" y="200.6" font-size="10.2">0.7</text>
<text x="790.9" y="193.6" font-size="18" font-style="italic">B</text>
<text x="805.7" y="193.6" font-size="18" letter-spacing="1.4">//</text>
<text x="820.1" y="193.6" font-size="18" font-style="italic">ab</text>
<text x="608.8" y="211.1" font-size="14.5" font-style="italic">ρ</text>
<text x="616.7" y="216.8" font-size="10">n</text>
<text x="606.1" y="270.6" font-size="14.5" font-style="italic">ρ</text>
<text x="614" y="276.3" font-size="10">n</text>
<text x="622.4" y="270.6" font-size="16">×</text>
<text x="634.8" y="270.6" font-size="16">0.5</text>
<text x="676.6" y="318.4" font-size="14.8" text-anchor="end">9 T</text>
<text x="737.7" y="318.4" font-size="14.8">0 T</text>
</g>
<text transform="translate(12 90.5) rotate(-90)" font-size="13.7" text-anchor="middle"><tspan font-style="italic">ρ</tspan> (mΩ cm)</text>
<text transform="translate(12 265.5) rotate(-90)" font-size="13.7" text-anchor="middle"><tspan font-style="italic">ρ</tspan> (mΩ cm)</text>
<text x="167.9" y="365.5" font-size="14" text-anchor="middle"><tspan font-style="italic">T</tspan> (K)</text>
<text x="446.0" y="365.5" font-size="14" text-anchor="middle"><tspan font-style="italic">T</tspan> (K)</text>
<text x="723.6" y="365.5" font-size="14" text-anchor="middle"><tspan font-style="italic">T</tspan> (K)</text>
</svg></body></html>
